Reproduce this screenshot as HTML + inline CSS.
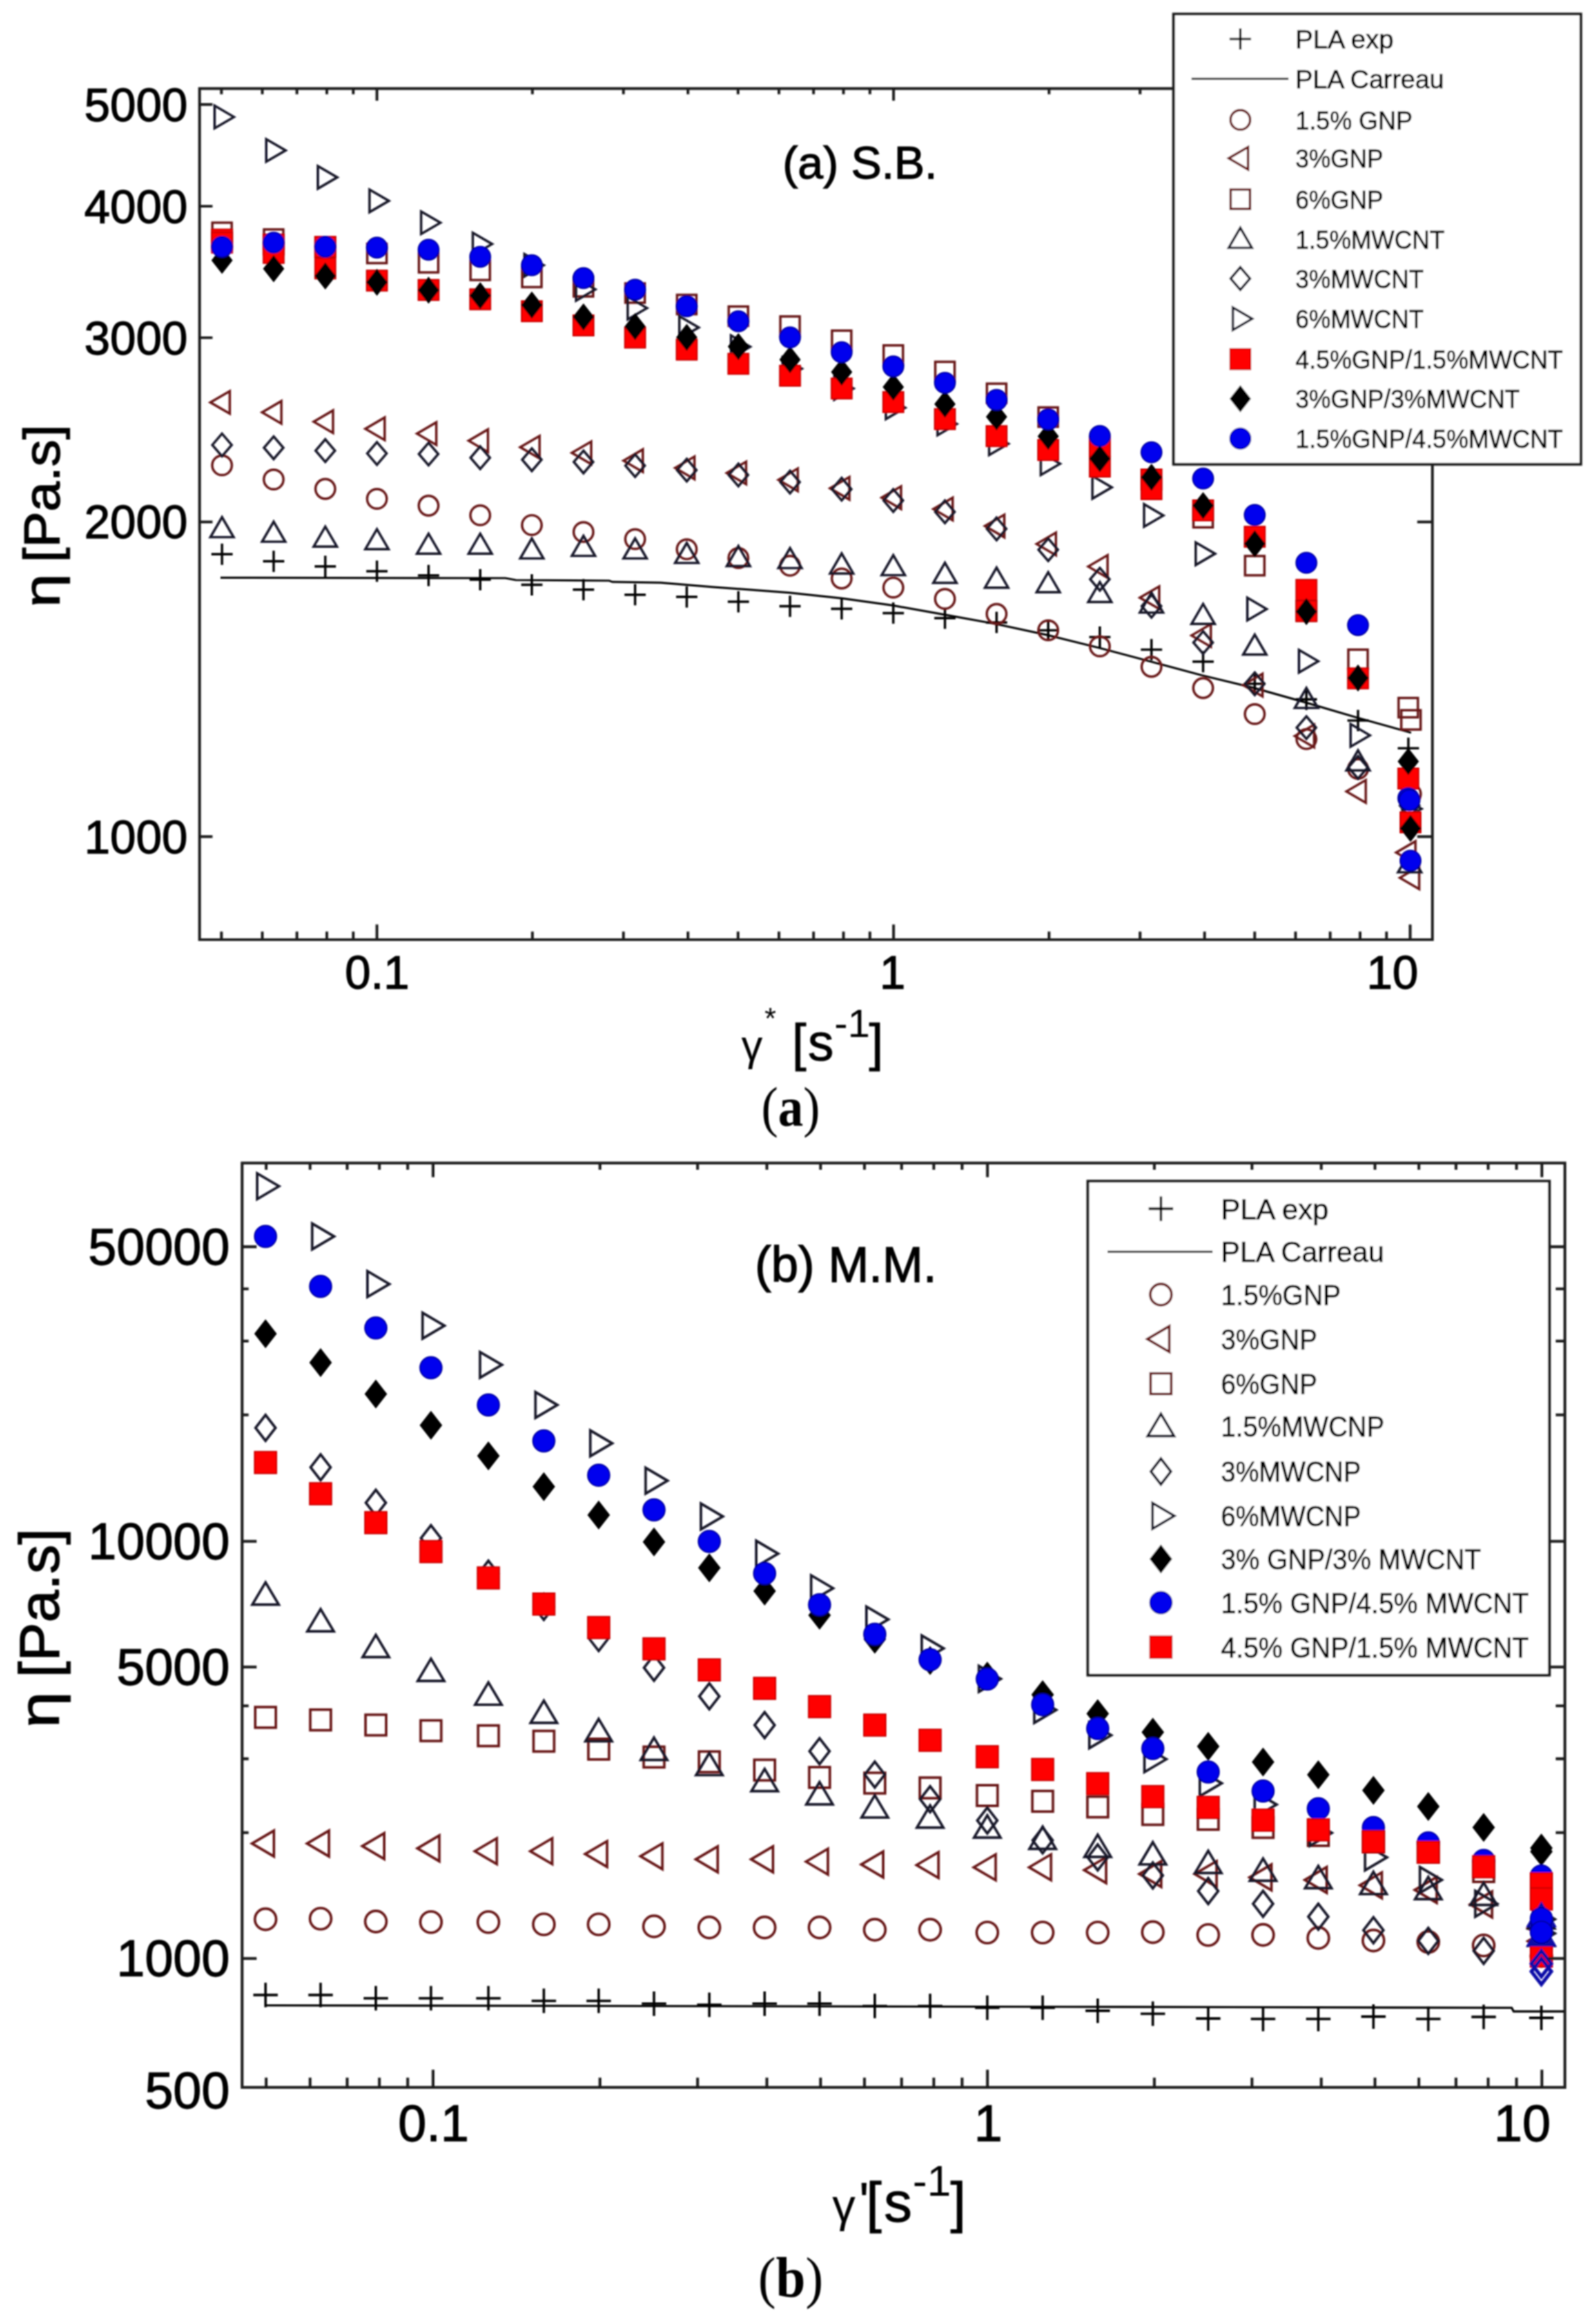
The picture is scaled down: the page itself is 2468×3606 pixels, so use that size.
<!DOCTYPE html>
<html lang="en"><head><meta charset="utf-8"><title>Figure: viscosity vs shear rate</title>
<style>
html,body{margin:0;padding:0;background:#fff;}
svg{display:block;}
text{fill:#000;}
</style></head>
<body>
<svg width="2468" height="3606" viewBox="0 0 2468 3606">
<defs><filter id="soft" x="-2%" y="-2%" width="104%" height="104%"><feGaussianBlur stdDeviation="0.9"/></filter></defs>
<rect width="2468" height="3606" fill="#fff"/>
<g filter="url(#soft)">
<g id="plot-a">
<path d="M327.9 859.9H360.9M344.4 843.4V876.4" stroke="#000000" stroke-width="3.7" fill="none"/>
<path d="M408 870.9H441M424.5 854.4V887.4" stroke="#000000" stroke-width="3.7" fill="none"/>
<path d="M488.1 878.8H521.1M504.6 862.3V895.3" stroke="#000000" stroke-width="3.7" fill="none"/>
<path d="M568.2 886.3H601.2M584.7 869.8V902.8" stroke="#000000" stroke-width="3.7" fill="none"/>
<path d="M648.3 892.9H681.3M664.8 876.4V909.4" stroke="#000000" stroke-width="3.7" fill="none"/>
<path d="M728.4 899.5H761.4M744.9 883V916" stroke="#000000" stroke-width="3.7" fill="none"/>
<path d="M808.5 907.4H841.5M825 890.9V923.9" stroke="#000000" stroke-width="3.7" fill="none"/>
<path d="M888.6 914.9H921.6M905.1 898.4V931.4" stroke="#000000" stroke-width="3.7" fill="none"/>
<path d="M968.7 922.8H1001.7M985.2 906.3V939.3" stroke="#000000" stroke-width="3.7" fill="none"/>
<path d="M1048.8 926.2H1081.8M1065.3 909.7V942.7" stroke="#000000" stroke-width="3.7" fill="none"/>
<path d="M1128.9 933.7H1161.9M1145.4 917.2V950.2" stroke="#000000" stroke-width="3.7" fill="none"/>
<path d="M1209 940.7H1242M1225.5 924.2V957.2" stroke="#000000" stroke-width="3.7" fill="none"/>
<path d="M1289.1 944.7H1322.1M1305.6 928.2V961.2" stroke="#000000" stroke-width="3.7" fill="none"/>
<path d="M1369.2 951.3H1402.2M1385.7 934.8V967.8" stroke="#000000" stroke-width="3.7" fill="none"/>
<path d="M1449.3 959.2H1482.3M1465.8 942.7V975.7" stroke="#000000" stroke-width="3.7" fill="none"/>
<path d="M1529.4 965.8H1562.4M1545.9 949.3V982.3" stroke="#000000" stroke-width="3.7" fill="none"/>
<path d="M1609.5 978H1642.5M1626 961.5V994.5" stroke="#000000" stroke-width="3.7" fill="none"/>
<path d="M1689.6 988.5H1722.6M1706.1 972V1005" stroke="#000000" stroke-width="3.7" fill="none"/>
<path d="M1769.7 1008H1802.7M1786.2 991.5V1024.5" stroke="#000000" stroke-width="3.7" fill="none"/>
<path d="M1849.8 1026.7H1882.8M1866.3 1010.2V1043.2" stroke="#000000" stroke-width="3.7" fill="none"/>
<path d="M1929.9 1061H1962.9M1946.4 1044.5V1077.5" stroke="#000000" stroke-width="3.7" fill="none"/>
<path d="M2010 1085.2H2043M2026.5 1068.7V1101.7" stroke="#000000" stroke-width="3.7" fill="none"/>
<path d="M2090.1 1118H2123.1M2106.6 1101.5V1134.5" stroke="#000000" stroke-width="3.7" fill="none"/>
<path d="M2168.2 1161H2201.2M2184.7 1144.5V1177.5" stroke="#000000" stroke-width="3.7" fill="none"/>
<polyline points="342,896.4 784,897 800,900 945,901 950,902.9 1025,904.2 1106,910.8 1224,919.6 1306,928.4 1385,939.4 1466,953.9 1544,968 1626,985.6 1704,1005 1786,1026.7 1864,1047.8 1946,1067.6 2024,1089.6 2106,1113.8 2185,1135.8 2189,1137" fill="none" stroke="#000000" stroke-width="3.2"/>
<circle cx="344.4" cy="722" r="15.2" stroke="#681616" stroke-width="3.7" fill="none"/>
<circle cx="424.5" cy="744" r="15.2" stroke="#681616" stroke-width="3.7" fill="none"/>
<circle cx="504.6" cy="758.6" r="15.2" stroke="#681616" stroke-width="3.7" fill="none"/>
<circle cx="584.7" cy="774" r="15.2" stroke="#681616" stroke-width="3.7" fill="none"/>
<circle cx="664.8" cy="784.6" r="15.2" stroke="#681616" stroke-width="3.7" fill="none"/>
<circle cx="744.9" cy="799.5" r="15.2" stroke="#681616" stroke-width="3.7" fill="none"/>
<circle cx="825" cy="814.7" r="15.2" stroke="#681616" stroke-width="3.7" fill="none"/>
<circle cx="905.1" cy="825.5" r="15.2" stroke="#681616" stroke-width="3.7" fill="none"/>
<circle cx="985.2" cy="836.5" r="15.2" stroke="#681616" stroke-width="3.7" fill="none"/>
<circle cx="1065.3" cy="852.3" r="15.2" stroke="#681616" stroke-width="3.7" fill="none"/>
<circle cx="1145.4" cy="865.9" r="15.2" stroke="#681616" stroke-width="3.7" fill="none"/>
<circle cx="1225.5" cy="877.8" r="15.2" stroke="#681616" stroke-width="3.7" fill="none"/>
<circle cx="1305.6" cy="897.6" r="15.2" stroke="#681616" stroke-width="3.7" fill="none"/>
<circle cx="1385.7" cy="911.7" r="15.2" stroke="#681616" stroke-width="3.7" fill="none"/>
<circle cx="1465.8" cy="929.3" r="15.2" stroke="#681616" stroke-width="3.7" fill="none"/>
<circle cx="1545.9" cy="952.6" r="15.2" stroke="#681616" stroke-width="3.7" fill="none"/>
<circle cx="1626" cy="978" r="15.2" stroke="#681616" stroke-width="3.7" fill="none"/>
<circle cx="1706.1" cy="1003" r="15.2" stroke="#681616" stroke-width="3.7" fill="none"/>
<circle cx="1786.2" cy="1034.6" r="15.2" stroke="#681616" stroke-width="3.7" fill="none"/>
<circle cx="1866.3" cy="1067.6" r="15.2" stroke="#681616" stroke-width="3.7" fill="none"/>
<circle cx="1946.4" cy="1108" r="15.2" stroke="#681616" stroke-width="3.7" fill="none"/>
<circle cx="2026.5" cy="1146.8" r="15.2" stroke="#681616" stroke-width="3.7" fill="none"/>
<circle cx="2106.6" cy="1193" r="15.2" stroke="#681616" stroke-width="3.7" fill="none"/>
<circle cx="2188.7" cy="1232" r="15.2" stroke="#681616" stroke-width="3.7" fill="none"/>
<path d="M326.4 624.4L356.4 606.9L356.4 641.9Z" stroke="#681616" stroke-width="3.7" fill="none" stroke-linejoin="miter"/>
<path d="M406.5 639.8L436.5 622.3L436.5 657.3Z" stroke="#681616" stroke-width="3.7" fill="none" stroke-linejoin="miter"/>
<path d="M486.6 654.3L516.6 636.8L516.6 671.8Z" stroke="#681616" stroke-width="3.7" fill="none" stroke-linejoin="miter"/>
<path d="M566.7 665.3L596.7 647.8L596.7 682.8Z" stroke="#681616" stroke-width="3.7" fill="none" stroke-linejoin="miter"/>
<path d="M646.8 672.8L676.8 655.3L676.8 690.3Z" stroke="#681616" stroke-width="3.7" fill="none" stroke-linejoin="miter"/>
<path d="M726.9 683.8L756.9 666.3L756.9 701.3Z" stroke="#681616" stroke-width="3.7" fill="none" stroke-linejoin="miter"/>
<path d="M807 693.9L837 676.4L837 711.4Z" stroke="#681616" stroke-width="3.7" fill="none" stroke-linejoin="miter"/>
<path d="M887.1 702.7L917.1 685.2L917.1 720.2Z" stroke="#681616" stroke-width="3.7" fill="none" stroke-linejoin="miter"/>
<path d="M967.2 714.8L997.2 697.3L997.2 732.3Z" stroke="#681616" stroke-width="3.7" fill="none" stroke-linejoin="miter"/>
<path d="M1047.3 726L1077.3 708.5L1077.3 743.5Z" stroke="#681616" stroke-width="3.7" fill="none" stroke-linejoin="miter"/>
<path d="M1127.4 733.9L1157.4 716.4L1157.4 751.4Z" stroke="#681616" stroke-width="3.7" fill="none" stroke-linejoin="miter"/>
<path d="M1207.5 744.5L1237.5 727L1237.5 762Z" stroke="#681616" stroke-width="3.7" fill="none" stroke-linejoin="miter"/>
<path d="M1287.6 757.7L1317.6 740.2L1317.6 775.2Z" stroke="#681616" stroke-width="3.7" fill="none" stroke-linejoin="miter"/>
<path d="M1367.7 772.2L1397.7 754.7L1397.7 789.7Z" stroke="#681616" stroke-width="3.7" fill="none" stroke-linejoin="miter"/>
<path d="M1447.8 789.8L1477.8 772.3L1477.8 807.3Z" stroke="#681616" stroke-width="3.7" fill="none" stroke-linejoin="miter"/>
<path d="M1527.9 816.2L1557.9 798.7L1557.9 833.7Z" stroke="#681616" stroke-width="3.7" fill="none" stroke-linejoin="miter"/>
<path d="M1608 844L1638 826.5L1638 861.5Z" stroke="#681616" stroke-width="3.7" fill="none" stroke-linejoin="miter"/>
<path d="M1688.1 879L1718.1 861.5L1718.1 896.5Z" stroke="#681616" stroke-width="3.7" fill="none" stroke-linejoin="miter"/>
<path d="M1768.2 927.4L1798.2 909.9L1798.2 944.9Z" stroke="#681616" stroke-width="3.7" fill="none" stroke-linejoin="miter"/>
<path d="M1848.3 986L1878.3 968.5L1878.3 1003.5Z" stroke="#681616" stroke-width="3.7" fill="none" stroke-linejoin="miter"/>
<path d="M1928.4 1063L1958.4 1045.5L1958.4 1080.5Z" stroke="#681616" stroke-width="3.7" fill="none" stroke-linejoin="miter"/>
<path d="M2008.5 1142L2038.5 1124.5L2038.5 1159.5Z" stroke="#681616" stroke-width="3.7" fill="none" stroke-linejoin="miter"/>
<path d="M2088.6 1228L2118.6 1210.5L2118.6 1245.5Z" stroke="#681616" stroke-width="3.7" fill="none" stroke-linejoin="miter"/>
<path d="M2165.7 1322.8L2195.7 1305.3L2195.7 1340.3Z" stroke="#681616" stroke-width="3.7" fill="none" stroke-linejoin="miter"/>
<path d="M2171.5 1362L2201.5 1344.5L2201.5 1379.5Z" stroke="#681616" stroke-width="3.7" fill="none" stroke-linejoin="miter"/>
<rect x="329.4" y="345.5" width="30" height="30" stroke="#681616" stroke-width="3.7" fill="none"/>
<rect x="409.5" y="356" width="30" height="30" stroke="#681616" stroke-width="3.7" fill="none"/>
<rect x="489.6" y="368" width="30" height="30" stroke="#681616" stroke-width="3.7" fill="none"/>
<rect x="569.7" y="378.3" width="30" height="30" stroke="#681616" stroke-width="3.7" fill="none"/>
<rect x="649.8" y="392.7" width="30" height="30" stroke="#681616" stroke-width="3.7" fill="none"/>
<rect x="729.9" y="404.5" width="30" height="30" stroke="#681616" stroke-width="3.7" fill="none"/>
<rect x="810" y="415.5" width="30" height="30" stroke="#681616" stroke-width="3.7" fill="none"/>
<rect x="890.1" y="430" width="30" height="30" stroke="#681616" stroke-width="3.7" fill="none"/>
<rect x="970.2" y="439.7" width="30" height="30" stroke="#681616" stroke-width="3.7" fill="none"/>
<rect x="1050.3" y="457.5" width="30" height="30" stroke="#681616" stroke-width="3.7" fill="none"/>
<rect x="1130.4" y="475.6" width="30" height="30" stroke="#681616" stroke-width="3.7" fill="none"/>
<rect x="1210.5" y="491" width="30" height="30" stroke="#681616" stroke-width="3.7" fill="none"/>
<rect x="1290.6" y="513" width="30" height="30" stroke="#681616" stroke-width="3.7" fill="none"/>
<rect x="1370.7" y="535.9" width="30" height="30" stroke="#681616" stroke-width="3.7" fill="none"/>
<rect x="1450.8" y="561.4" width="30" height="30" stroke="#681616" stroke-width="3.7" fill="none"/>
<rect x="1530.9" y="595.3" width="30" height="30" stroke="#681616" stroke-width="3.7" fill="none"/>
<rect x="1611" y="632.2" width="30" height="30" stroke="#681616" stroke-width="3.7" fill="none"/>
<rect x="1691.1" y="678" width="30" height="30" stroke="#681616" stroke-width="3.7" fill="none"/>
<rect x="1771.2" y="729" width="30" height="30" stroke="#681616" stroke-width="3.7" fill="none"/>
<rect x="1851.3" y="788.3" width="30" height="30" stroke="#681616" stroke-width="3.7" fill="none"/>
<rect x="1931.4" y="862.7" width="30" height="30" stroke="#681616" stroke-width="3.7" fill="none"/>
<rect x="2011.5" y="933.3" width="30" height="30" stroke="#681616" stroke-width="3.7" fill="none"/>
<rect x="2091.6" y="1008" width="30" height="30" stroke="#681616" stroke-width="3.7" fill="none"/>
<rect x="2169.5" y="1083" width="30" height="30" stroke="#681616" stroke-width="3.7" fill="none"/>
<rect x="2173.7" y="1102" width="30" height="30" stroke="#681616" stroke-width="3.7" fill="none"/>
<path d="M344.4 802.5L362.4 833.5L326.4 833.5Z" stroke="#121228" stroke-width="3.7" fill="none" stroke-linejoin="miter"/>
<path d="M424.5 809.5L442.5 840.5L406.5 840.5Z" stroke="#121228" stroke-width="3.7" fill="none" stroke-linejoin="miter"/>
<path d="M504.6 817.1L522.6 848.1L486.6 848.1Z" stroke="#121228" stroke-width="3.7" fill="none" stroke-linejoin="miter"/>
<path d="M584.7 821.1L602.7 852.1L566.7 852.1Z" stroke="#121228" stroke-width="3.7" fill="none" stroke-linejoin="miter"/>
<path d="M664.8 828.1L682.8 859.1L646.8 859.1Z" stroke="#121228" stroke-width="3.7" fill="none" stroke-linejoin="miter"/>
<path d="M744.9 828.1L762.9 859.1L726.9 859.1Z" stroke="#121228" stroke-width="3.7" fill="none" stroke-linejoin="miter"/>
<path d="M825 835.5L843 866.5L807 866.5Z" stroke="#121228" stroke-width="3.7" fill="none" stroke-linejoin="miter"/>
<path d="M905.1 831.5L923.1 862.5L887.1 862.5Z" stroke="#121228" stroke-width="3.7" fill="none" stroke-linejoin="miter"/>
<path d="M985.2 835.5L1003.2 866.5L967.2 866.5Z" stroke="#121228" stroke-width="3.7" fill="none" stroke-linejoin="miter"/>
<path d="M1065.3 842.5L1083.3 873.5L1047.3 873.5Z" stroke="#121228" stroke-width="3.7" fill="none" stroke-linejoin="miter"/>
<path d="M1145.4 847.3L1163.4 878.3L1127.4 878.3Z" stroke="#121228" stroke-width="3.7" fill="none" stroke-linejoin="miter"/>
<path d="M1225.5 850.5L1243.5 881.5L1207.5 881.5Z" stroke="#121228" stroke-width="3.7" fill="none" stroke-linejoin="miter"/>
<path d="M1305.6 858.8L1323.6 889.8L1287.6 889.8Z" stroke="#121228" stroke-width="3.7" fill="none" stroke-linejoin="miter"/>
<path d="M1385.7 861.5L1403.7 892.5L1367.7 892.5Z" stroke="#121228" stroke-width="3.7" fill="none" stroke-linejoin="miter"/>
<path d="M1465.8 873.3L1483.8 904.3L1447.8 904.3Z" stroke="#121228" stroke-width="3.7" fill="none" stroke-linejoin="miter"/>
<path d="M1545.9 880.8L1563.9 911.8L1527.9 911.8Z" stroke="#121228" stroke-width="3.7" fill="none" stroke-linejoin="miter"/>
<path d="M1626 887.9L1644 918.9L1608 918.9Z" stroke="#121228" stroke-width="3.7" fill="none" stroke-linejoin="miter"/>
<path d="M1706.1 903.1L1724.1 934.1L1688.1 934.1Z" stroke="#121228" stroke-width="3.7" fill="none" stroke-linejoin="miter"/>
<path d="M1786.2 919.5L1804.2 950.5L1768.2 950.5Z" stroke="#121228" stroke-width="3.7" fill="none" stroke-linejoin="miter"/>
<path d="M1866.3 937.1L1884.3 968.1L1848.3 968.1Z" stroke="#121228" stroke-width="3.7" fill="none" stroke-linejoin="miter"/>
<path d="M1946.4 984.7L1964.4 1015.7L1928.4 1015.7Z" stroke="#121228" stroke-width="3.7" fill="none" stroke-linejoin="miter"/>
<path d="M2026.5 1067.5L2044.5 1098.5L2008.5 1098.5Z" stroke="#121228" stroke-width="3.7" fill="none" stroke-linejoin="miter"/>
<path d="M2106.6 1164.3L2124.6 1195.3L2088.6 1195.3Z" stroke="#121228" stroke-width="3.7" fill="none" stroke-linejoin="miter"/>
<path d="M2186.7 1322.5L2204.7 1353.5L2168.7 1353.5Z" stroke="#121228" stroke-width="3.7" fill="none" stroke-linejoin="miter"/>
<path d="M344.4 672.9L359.4 690.4L344.4 707.9L329.4 690.4Z" stroke="#121228" stroke-width="3.7" fill="none" stroke-linejoin="miter"/>
<path d="M424.5 677.3L439.5 694.8L424.5 712.3L409.5 694.8Z" stroke="#121228" stroke-width="3.7" fill="none" stroke-linejoin="miter"/>
<path d="M504.6 681.7L519.6 699.2L504.6 716.7L489.6 699.2Z" stroke="#121228" stroke-width="3.7" fill="none" stroke-linejoin="miter"/>
<path d="M584.7 686.1L599.7 703.6L584.7 721.1L569.7 703.6Z" stroke="#121228" stroke-width="3.7" fill="none" stroke-linejoin="miter"/>
<path d="M664.8 687L679.8 704.5L664.8 722L649.8 704.5Z" stroke="#121228" stroke-width="3.7" fill="none" stroke-linejoin="miter"/>
<path d="M744.9 692.7L759.9 710.2L744.9 727.7L729.9 710.2Z" stroke="#121228" stroke-width="3.7" fill="none" stroke-linejoin="miter"/>
<path d="M825 695.8L840 713.3L825 730.8L810 713.3Z" stroke="#121228" stroke-width="3.7" fill="none" stroke-linejoin="miter"/>
<path d="M905.1 699.3L920.1 716.8L905.1 734.3L890.1 716.8Z" stroke="#121228" stroke-width="3.7" fill="none" stroke-linejoin="miter"/>
<path d="M985.2 705L1000.2 722.5L985.2 740L970.2 722.5Z" stroke="#121228" stroke-width="3.7" fill="none" stroke-linejoin="miter"/>
<path d="M1065.3 712L1080.3 729.5L1065.3 747L1050.3 729.5Z" stroke="#121228" stroke-width="3.7" fill="none" stroke-linejoin="miter"/>
<path d="M1145.4 719.5L1160.4 737L1145.4 754.5L1130.4 737Z" stroke="#121228" stroke-width="3.7" fill="none" stroke-linejoin="miter"/>
<path d="M1225.5 730.5L1240.5 748L1225.5 765.5L1210.5 748Z" stroke="#121228" stroke-width="3.7" fill="none" stroke-linejoin="miter"/>
<path d="M1305.6 741.5L1320.6 759L1305.6 776.5L1290.6 759Z" stroke="#121228" stroke-width="3.7" fill="none" stroke-linejoin="miter"/>
<path d="M1385.7 759.1L1400.7 776.6L1385.7 794.1L1370.7 776.6Z" stroke="#121228" stroke-width="3.7" fill="none" stroke-linejoin="miter"/>
<path d="M1465.8 776.7L1480.8 794.2L1465.8 811.7L1450.8 794.2Z" stroke="#121228" stroke-width="3.7" fill="none" stroke-linejoin="miter"/>
<path d="M1545.9 803.1L1560.9 820.6L1545.9 838.1L1530.9 820.6Z" stroke="#121228" stroke-width="3.7" fill="none" stroke-linejoin="miter"/>
<path d="M1626 835.5L1641 853L1626 870.5L1611 853Z" stroke="#121228" stroke-width="3.7" fill="none" stroke-linejoin="miter"/>
<path d="M1706.1 881.3L1721.1 898.8L1706.1 916.3L1691.1 898.8Z" stroke="#121228" stroke-width="3.7" fill="none" stroke-linejoin="miter"/>
<path d="M1786.2 923.1L1801.2 940.6L1786.2 958.1L1771.2 940.6Z" stroke="#121228" stroke-width="3.7" fill="none" stroke-linejoin="miter"/>
<path d="M1866.3 979.5L1881.3 997L1866.3 1014.5L1851.3 997Z" stroke="#121228" stroke-width="3.7" fill="none" stroke-linejoin="miter"/>
<path d="M1946.4 1043.5L1961.4 1061L1946.4 1078.5L1931.4 1061Z" stroke="#121228" stroke-width="3.7" fill="none" stroke-linejoin="miter"/>
<path d="M2026.5 1111.5L2041.5 1129L2026.5 1146.5L2011.5 1129Z" stroke="#121228" stroke-width="3.7" fill="none" stroke-linejoin="miter"/>
<path d="M2106.6 1173.3L2121.6 1190.8L2106.6 1208.3L2091.6 1190.8Z" stroke="#121228" stroke-width="3.7" fill="none" stroke-linejoin="miter"/>
<path d="M2186.7 1232.5L2201.7 1250L2186.7 1267.5L2171.7 1250Z" stroke="#121228" stroke-width="3.7" fill="none" stroke-linejoin="miter"/>
<path d="M362.9 181.5L332.9 164L332.9 199Z" stroke="#121228" stroke-width="3.7" fill="none" stroke-linejoin="miter"/>
<path d="M443 233.4L413 215.9L413 250.9Z" stroke="#121228" stroke-width="3.7" fill="none" stroke-linejoin="miter"/>
<path d="M523.1 275.2L493.1 257.7L493.1 292.7Z" stroke="#121228" stroke-width="3.7" fill="none" stroke-linejoin="miter"/>
<path d="M603.2 311.7L573.2 294.2L573.2 329.2Z" stroke="#121228" stroke-width="3.7" fill="none" stroke-linejoin="miter"/>
<path d="M683.3 345.6L653.3 328.1L653.3 363.1Z" stroke="#121228" stroke-width="3.7" fill="none" stroke-linejoin="miter"/>
<path d="M763.4 378.6L733.4 361.1L733.4 396.1Z" stroke="#121228" stroke-width="3.7" fill="none" stroke-linejoin="miter"/>
<path d="M843.5 411.6L813.5 394.1L813.5 429.1Z" stroke="#121228" stroke-width="3.7" fill="none" stroke-linejoin="miter"/>
<path d="M923.6 449L893.6 431.5L893.6 466.5Z" stroke="#121228" stroke-width="3.7" fill="none" stroke-linejoin="miter"/>
<path d="M1003.7 478L973.7 460.5L973.7 495.5Z" stroke="#121228" stroke-width="3.7" fill="none" stroke-linejoin="miter"/>
<path d="M1083.8 508.2L1053.8 490.7L1053.8 525.7Z" stroke="#121228" stroke-width="3.7" fill="none" stroke-linejoin="miter"/>
<path d="M1163.9 538L1133.9 520.5L1133.9 555.5Z" stroke="#121228" stroke-width="3.7" fill="none" stroke-linejoin="miter"/>
<path d="M1244 572L1214 554.5L1214 589.5Z" stroke="#121228" stroke-width="3.7" fill="none" stroke-linejoin="miter"/>
<path d="M1324.1 602.8L1294.1 585.3L1294.1 620.3Z" stroke="#121228" stroke-width="3.7" fill="none" stroke-linejoin="miter"/>
<path d="M1404.2 632.7L1374.2 615.2L1374.2 650.2Z" stroke="#121228" stroke-width="3.7" fill="none" stroke-linejoin="miter"/>
<path d="M1484.3 657.8L1454.3 640.3L1454.3 675.3Z" stroke="#121228" stroke-width="3.7" fill="none" stroke-linejoin="miter"/>
<path d="M1564.4 688.6L1534.4 671.1L1534.4 706.1Z" stroke="#121228" stroke-width="3.7" fill="none" stroke-linejoin="miter"/>
<path d="M1644.5 719.5L1614.5 702L1614.5 737Z" stroke="#121228" stroke-width="3.7" fill="none" stroke-linejoin="miter"/>
<path d="M1724.6 756.2L1694.6 738.7L1694.6 773.7Z" stroke="#121228" stroke-width="3.7" fill="none" stroke-linejoin="miter"/>
<path d="M1804.7 799.8L1774.7 782.3L1774.7 817.3Z" stroke="#121228" stroke-width="3.7" fill="none" stroke-linejoin="miter"/>
<path d="M1884.8 859.2L1854.8 841.7L1854.8 876.7Z" stroke="#121228" stroke-width="3.7" fill="none" stroke-linejoin="miter"/>
<path d="M1964.9 945L1934.9 927.5L1934.9 962.5Z" stroke="#121228" stroke-width="3.7" fill="none" stroke-linejoin="miter"/>
<path d="M2045 1026L2015 1008.5L2015 1043.5Z" stroke="#121228" stroke-width="3.7" fill="none" stroke-linejoin="miter"/>
<path d="M2125.1 1141L2095.1 1123.5L2095.1 1158.5Z" stroke="#121228" stroke-width="3.7" fill="none" stroke-linejoin="miter"/>
<path d="M2205.2 1255L2175.2 1237.5L2175.2 1272.5Z" stroke="#121228" stroke-width="3.7" fill="none" stroke-linejoin="miter"/>
<rect x="328.4" y="355.7" width="32" height="32" stroke="#c80000" stroke-width="2" fill="#ff0000"/>
<rect x="328.4" y="360.5" width="32" height="32" stroke="#c80000" stroke-width="2" fill="#ff0000"/>
<rect x="408.5" y="363.5" width="32" height="32" stroke="#c80000" stroke-width="2" fill="#ff0000"/>
<rect x="408.5" y="376.5" width="32" height="32" stroke="#c80000" stroke-width="2" fill="#ff0000"/>
<rect x="488.6" y="367" width="32" height="32" stroke="#c80000" stroke-width="2" fill="#ff0000"/>
<rect x="488.6" y="400.5" width="32" height="32" stroke="#c80000" stroke-width="2" fill="#ff0000"/>
<rect x="568.7" y="419.4" width="32" height="32" stroke="#c80000" stroke-width="2" fill="#ff0000"/>
<rect x="648.8" y="433.9" width="32" height="32" stroke="#c80000" stroke-width="2" fill="#ff0000"/>
<rect x="728.9" y="448.4" width="32" height="32" stroke="#c80000" stroke-width="2" fill="#ff0000"/>
<rect x="809" y="466.9" width="32" height="32" stroke="#c80000" stroke-width="2" fill="#ff0000"/>
<rect x="889.1" y="488.9" width="32" height="32" stroke="#c80000" stroke-width="2" fill="#ff0000"/>
<rect x="969.2" y="507.8" width="32" height="32" stroke="#c80000" stroke-width="2" fill="#ff0000"/>
<rect x="1049.3" y="526.5" width="32" height="32" stroke="#c80000" stroke-width="2" fill="#ff0000"/>
<rect x="1129.4" y="548.5" width="32" height="32" stroke="#c80000" stroke-width="2" fill="#ff0000"/>
<rect x="1209.5" y="567" width="32" height="32" stroke="#c80000" stroke-width="2" fill="#ff0000"/>
<rect x="1289.6" y="586.8" width="32" height="32" stroke="#c80000" stroke-width="2" fill="#ff0000"/>
<rect x="1369.7" y="607.9" width="32" height="32" stroke="#c80000" stroke-width="2" fill="#ff0000"/>
<rect x="1449.8" y="634.3" width="32" height="32" stroke="#c80000" stroke-width="2" fill="#ff0000"/>
<rect x="1529.9" y="660.7" width="32" height="32" stroke="#c80000" stroke-width="2" fill="#ff0000"/>
<rect x="1610" y="682.2" width="32" height="32" stroke="#c80000" stroke-width="2" fill="#ff0000"/>
<rect x="1690.1" y="677" width="32" height="32" stroke="#c80000" stroke-width="2" fill="#ff0000"/>
<rect x="1690.1" y="708" width="32" height="32" stroke="#c80000" stroke-width="2" fill="#ff0000"/>
<rect x="1770.2" y="728" width="32" height="32" stroke="#c80000" stroke-width="2" fill="#ff0000"/>
<rect x="1770.2" y="743" width="32" height="32" stroke="#c80000" stroke-width="2" fill="#ff0000"/>
<rect x="1850.3" y="775.9" width="32" height="32" stroke="#c80000" stroke-width="2" fill="#ff0000"/>
<rect x="1930.4" y="816.8" width="32" height="32" stroke="#c80000" stroke-width="2" fill="#ff0000"/>
<rect x="2010.5" y="899.3" width="32" height="32" stroke="#c80000" stroke-width="2" fill="#ff0000"/>
<rect x="2010.5" y="932.3" width="32" height="32" stroke="#c80000" stroke-width="2" fill="#ff0000"/>
<rect x="2090.6" y="1036.6" width="32" height="32" stroke="#c80000" stroke-width="2" fill="#ff0000"/>
<rect x="2168.6" y="1192" width="32" height="32" stroke="#c80000" stroke-width="2" fill="#ff0000"/>
<rect x="2172" y="1260" width="32" height="32" stroke="#c80000" stroke-width="2" fill="#ff0000"/>
<path d="M344.4 383L360.9 404L344.4 425L327.9 404Z" stroke="#000000" stroke-width="0" fill="#000000" stroke-linejoin="miter"/>
<path d="M424.5 395.9L441 416.9L424.5 437.9L408 416.9Z" stroke="#000000" stroke-width="0" fill="#000000" stroke-linejoin="miter"/>
<path d="M504.6 407.3L521.1 428.3L504.6 449.3L488.1 428.3Z" stroke="#000000" stroke-width="0" fill="#000000" stroke-linejoin="miter"/>
<path d="M584.7 417L601.2 438L584.7 459L568.2 438Z" stroke="#000000" stroke-width="0" fill="#000000" stroke-linejoin="miter"/>
<path d="M664.8 429.3L681.3 450.3L664.8 471.3L648.3 450.3Z" stroke="#000000" stroke-width="0" fill="#000000" stroke-linejoin="miter"/>
<path d="M744.9 437.7L761.4 458.7L744.9 479.7L728.4 458.7Z" stroke="#000000" stroke-width="0" fill="#000000" stroke-linejoin="miter"/>
<path d="M825 452.2L841.5 473.2L825 494.2L808.5 473.2Z" stroke="#000000" stroke-width="0" fill="#000000" stroke-linejoin="miter"/>
<path d="M905.1 470.7L921.6 491.7L905.1 512.7L888.6 491.7Z" stroke="#000000" stroke-width="0" fill="#000000" stroke-linejoin="miter"/>
<path d="M985.2 485.7L1001.7 506.7L985.2 527.7L968.7 506.7Z" stroke="#000000" stroke-width="0" fill="#000000" stroke-linejoin="miter"/>
<path d="M1065.3 502.6L1081.8 523.6L1065.3 544.6L1048.8 523.6Z" stroke="#000000" stroke-width="0" fill="#000000" stroke-linejoin="miter"/>
<path d="M1145.4 516.7L1161.9 537.7L1145.4 558.7L1128.9 537.7Z" stroke="#000000" stroke-width="0" fill="#000000" stroke-linejoin="miter"/>
<path d="M1225.5 536.9L1242 557.9L1225.5 578.9L1209 557.9Z" stroke="#000000" stroke-width="0" fill="#000000" stroke-linejoin="miter"/>
<path d="M1305.6 556.3L1322.1 577.3L1305.6 598.3L1289.1 577.3Z" stroke="#000000" stroke-width="0" fill="#000000" stroke-linejoin="miter"/>
<path d="M1385.7 579.6L1402.2 600.6L1385.7 621.6L1369.2 600.6Z" stroke="#000000" stroke-width="0" fill="#000000" stroke-linejoin="miter"/>
<path d="M1465.8 606L1482.3 627L1465.8 648L1449.3 627Z" stroke="#000000" stroke-width="0" fill="#000000" stroke-linejoin="miter"/>
<path d="M1545.9 625.8L1562.4 646.8L1545.9 667.8L1529.4 646.8Z" stroke="#000000" stroke-width="0" fill="#000000" stroke-linejoin="miter"/>
<path d="M1626 656L1642.5 677L1626 698L1609.5 677Z" stroke="#000000" stroke-width="0" fill="#000000" stroke-linejoin="miter"/>
<path d="M1706.1 690.8L1722.6 711.8L1706.1 732.8L1689.6 711.8Z" stroke="#000000" stroke-width="0" fill="#000000" stroke-linejoin="miter"/>
<path d="M1786.2 719.4L1802.7 740.4L1786.2 761.4L1769.7 740.4Z" stroke="#000000" stroke-width="0" fill="#000000" stroke-linejoin="miter"/>
<path d="M1866.3 763.4L1882.8 784.4L1866.3 805.4L1849.8 784.4Z" stroke="#000000" stroke-width="0" fill="#000000" stroke-linejoin="miter"/>
<path d="M1946.4 822.8L1962.9 843.8L1946.4 864.8L1929.9 843.8Z" stroke="#000000" stroke-width="0" fill="#000000" stroke-linejoin="miter"/>
<path d="M2026.5 928L2043 949L2026.5 970L2010 949Z" stroke="#000000" stroke-width="0" fill="#000000" stroke-linejoin="miter"/>
<path d="M2106.6 1031L2123.1 1052L2106.6 1073L2090.1 1052Z" stroke="#000000" stroke-width="0" fill="#000000" stroke-linejoin="miter"/>
<path d="M2184.6 1160.5L2201.1 1181.5L2184.6 1202.5L2168.1 1181.5Z" stroke="#000000" stroke-width="0" fill="#000000" stroke-linejoin="miter"/>
<path d="M2188 1264.4L2204.5 1285.4L2188 1306.4L2171.5 1285.4Z" stroke="#000000" stroke-width="0" fill="#000000" stroke-linejoin="miter"/>
<circle cx="344.4" cy="383" r="16" stroke="#0000a0" stroke-width="2" fill="#0000ee"/>
<circle cx="424.5" cy="376.4" r="16" stroke="#0000a0" stroke-width="2" fill="#0000ee"/>
<circle cx="504.6" cy="383" r="16" stroke="#0000a0" stroke-width="2" fill="#0000ee"/>
<circle cx="584.7" cy="384.3" r="16" stroke="#0000a0" stroke-width="2" fill="#0000ee"/>
<circle cx="664.8" cy="387.4" r="16" stroke="#0000a0" stroke-width="2" fill="#0000ee"/>
<circle cx="744.9" cy="398.4" r="16" stroke="#0000a0" stroke-width="2" fill="#0000ee"/>
<circle cx="825" cy="411.6" r="16" stroke="#0000a0" stroke-width="2" fill="#0000ee"/>
<circle cx="905.1" cy="431.4" r="16" stroke="#0000a0" stroke-width="2" fill="#0000ee"/>
<circle cx="985.2" cy="449.5" r="16" stroke="#0000a0" stroke-width="2" fill="#0000ee"/>
<circle cx="1065.3" cy="475.2" r="16" stroke="#0000a0" stroke-width="2" fill="#0000ee"/>
<circle cx="1145.4" cy="498.5" r="16" stroke="#0000a0" stroke-width="2" fill="#0000ee"/>
<circle cx="1225.5" cy="523.6" r="16" stroke="#0000a0" stroke-width="2" fill="#0000ee"/>
<circle cx="1305.6" cy="546.5" r="16" stroke="#0000a0" stroke-width="2" fill="#0000ee"/>
<circle cx="1385.7" cy="568.5" r="16" stroke="#0000a0" stroke-width="2" fill="#0000ee"/>
<circle cx="1465.8" cy="594" r="16" stroke="#0000a0" stroke-width="2" fill="#0000ee"/>
<circle cx="1545.9" cy="620.4" r="16" stroke="#0000a0" stroke-width="2" fill="#0000ee"/>
<circle cx="1626" cy="650.7" r="16" stroke="#0000a0" stroke-width="2" fill="#0000ee"/>
<circle cx="1706.1" cy="676.6" r="16" stroke="#0000a0" stroke-width="2" fill="#0000ee"/>
<circle cx="1786.2" cy="701.7" r="16" stroke="#0000a0" stroke-width="2" fill="#0000ee"/>
<circle cx="1866.3" cy="742.6" r="16" stroke="#0000a0" stroke-width="2" fill="#0000ee"/>
<circle cx="1946.4" cy="798.9" r="16" stroke="#0000a0" stroke-width="2" fill="#0000ee"/>
<circle cx="2026.5" cy="873.3" r="16" stroke="#0000a0" stroke-width="2" fill="#0000ee"/>
<circle cx="2106.6" cy="970" r="16" stroke="#0000a0" stroke-width="2" fill="#0000ee"/>
<circle cx="2184.6" cy="1238.5" r="16" stroke="#0000a0" stroke-width="2" fill="#0000ee"/>
<circle cx="2186.5" cy="1241.5" r="16" stroke="#0000a0" stroke-width="2" fill="#0000ee"/>
<circle cx="2188" cy="1335.5" r="16" stroke="#0000a0" stroke-width="2" fill="#0000ee"/>
<path d="M309.6 137.3H2222V1458H309.6Z" fill="none" stroke="#1a1a1a" stroke-width="4.2"/>
<text x="291" y="1323.7" font-family='"Liberation Sans", Arial, sans-serif' font-size="72" text-anchor="end" font-weight="normal" stroke="#000" stroke-width="1.3">1000</text>
<text x="291" y="835.3" font-family='"Liberation Sans", Arial, sans-serif' font-size="72" text-anchor="end" font-weight="normal" stroke="#000" stroke-width="1.3">2000</text>
<text x="291" y="549.5" font-family='"Liberation Sans", Arial, sans-serif' font-size="72" text-anchor="end" font-weight="normal" stroke="#000" stroke-width="1.3">3000</text>
<text x="291" y="345.5" font-family='"Liberation Sans", Arial, sans-serif' font-size="72" text-anchor="end" font-weight="normal" stroke="#000" stroke-width="1.3">4000</text>
<text x="291" y="187.6" font-family='"Liberation Sans", Arial, sans-serif' font-size="72" text-anchor="end" font-weight="normal" stroke="#000" stroke-width="1.3">5000</text>
<path d="M343.5 1458v-12.5M343.5 137.3v9M406.9 1458v-12.5M406.9 137.3v9M460.6 1458v-12.5M460.6 137.3v9M507 1458v-12.5M507 137.3v9M548 1458v-12.5M548 137.3v9M584.7 1458v-23.5M584.7 137.3v19M825.9 1458v-12.5M825.9 137.3v9M967.1 1458v-12.5M967.1 137.3v9M1067.2 1458v-12.5M1067.2 137.3v9M1144.9 1458v-12.5M1144.9 137.3v9M1208.3 1458v-12.5M1208.3 137.3v9M1262 1458v-12.5M1262 137.3v9M1308.4 1458v-12.5M1308.4 137.3v9M1349.4 1458v-12.5M1349.4 137.3v9M1386.1 1458v-23.5M1386.1 137.3v19M1627.3 1458v-12.5M1627.3 137.3v9M1768.5 1458v-12.5M1768.5 137.3v9M1868.6 1458v-12.5M1868.6 137.3v9M1946.3 1458v-12.5M1946.3 137.3v9M2009.7 1458v-12.5M2009.7 137.3v9M2063.4 1458v-12.5M2063.4 137.3v9M2109.8 1458v-12.5M2109.8 137.3v9M2150.8 1458v-12.5M2150.8 137.3v9M2187.5 1458v-23.5M2187.5 137.3v19M309.6 1298.2h20M2222 1298.2h-23.5M309.6 809.8h20M2222 809.8h-23.5M309.6 524h20M2222 524h-23.5M309.6 320h20M2222 320h-23.5M309.6 162.1h20M2222 162.1h-23.5" stroke="#1a1a1a" stroke-width="4.2" fill="none"/>
<text x="585" y="1533.5" font-family='"Liberation Sans", Arial, sans-serif' font-size="72" text-anchor="middle" font-weight="normal" stroke="#000" stroke-width="1.3">0.1</text>
<text x="1384.5" y="1533.5" font-family='"Liberation Sans", Arial, sans-serif' font-size="72" text-anchor="middle" font-weight="normal" stroke="#000" stroke-width="1.3">1</text>
<text x="2160" y="1533.5" font-family='"Liberation Sans", Arial, sans-serif' font-size="72" text-anchor="middle" font-weight="normal" stroke="#000" stroke-width="1.3">10</text>
<text transform="translate(91.5 942) rotate(-90)" font-family='"Liberation Sans", Arial, sans-serif' font-size="78" stroke="#000" stroke-width="1.4" textLength="51.6" lengthAdjust="spacingAndGlyphs">η</text>
<text transform="translate(91.5 872.8) rotate(-90)" font-family='"Liberation Sans", Arial, sans-serif' font-size="78" stroke="#000" stroke-width="1.4" textLength="214" lengthAdjust="spacingAndGlyphs">[Pa.s]</text>
<text x="1150" y="1645" font-family='"Liberation Sans", Arial, sans-serif' font-size="80" stroke="#000" stroke-width="1"><tspan font-size="66" stroke="none">γ</tspan><tspan font-size="46" dy="-49" dx="3" stroke="none">*</tspan><tspan dy="49" x="1228.5">[</tspan><tspan dx="2.5">s</tspan><tspan font-size="62" dy="-36" dx="1" stroke="none">-1</tspan><tspan dy="36" dx="-1.5">]</tspan></text>
<text x="1214" y="276.5" font-family='"Liberation Sans", Arial, sans-serif' font-size="71" text-anchor="start" font-weight="normal" textLength="240" lengthAdjust="spacingAndGlyphs" stroke="#000" stroke-width="1.3">(a) S.B.</text>
<text x="1181" y="1747" font-family='"Liberation Serif", "Times New Roman", serif' font-size="86" textLength="91" lengthAdjust="spacingAndGlyphs">(<tspan font-weight="bold">a</tspan>)</text>
<rect x="1820.5" y="21.8" width="631.7" height="698.6" fill="#fff" stroke="#1a1a1a" stroke-width="4.2"/>
<text x="2009.5" y="75" font-family='"Liberation Sans", Arial, sans-serif' font-size="40" text-anchor="start" font-weight="normal" textLength="152.2" lengthAdjust="spacingAndGlyphs" stroke="#000" stroke-width="0.7">PLA exp</text>
<text x="2009.5" y="136.9" font-family='"Liberation Sans", Arial, sans-serif' font-size="40" text-anchor="start" font-weight="normal" textLength="230.5" lengthAdjust="spacingAndGlyphs" stroke="#000" stroke-width="0.7">PLA Carreau</text>
<text x="2009.5" y="200.5" font-family='"Liberation Sans", Arial, sans-serif' font-size="40" text-anchor="start" font-weight="normal" textLength="181.6" lengthAdjust="spacingAndGlyphs" stroke="#000" stroke-width="0.7">1.5% GNP</text>
<text x="2009.5" y="260.1" font-family='"Liberation Sans", Arial, sans-serif' font-size="40" text-anchor="start" font-weight="normal" textLength="136.2" lengthAdjust="spacingAndGlyphs" stroke="#000" stroke-width="0.7">3%GNP</text>
<text x="2009.5" y="323.7" font-family='"Liberation Sans", Arial, sans-serif' font-size="40" text-anchor="start" font-weight="normal" textLength="136.2" lengthAdjust="spacingAndGlyphs" stroke="#000" stroke-width="0.7">6%GNP</text>
<text x="2009.5" y="385.5" font-family='"Liberation Sans", Arial, sans-serif' font-size="40" text-anchor="start" font-weight="normal" textLength="231.4" lengthAdjust="spacingAndGlyphs" stroke="#000" stroke-width="0.7">1.5%MWCNT</text>
<text x="2009.5" y="446.7" font-family='"Liberation Sans", Arial, sans-serif' font-size="40" text-anchor="start" font-weight="normal" textLength="198.9" lengthAdjust="spacingAndGlyphs" stroke="#000" stroke-width="0.7">3%MWCNT</text>
<text x="2009.5" y="509.1" font-family='"Liberation Sans", Arial, sans-serif' font-size="40" text-anchor="start" font-weight="normal" textLength="198.9" lengthAdjust="spacingAndGlyphs" stroke="#000" stroke-width="0.7">6%MWCNT</text>
<text x="2009.5" y="571.8" font-family='"Liberation Sans", Arial, sans-serif' font-size="40" text-anchor="start" font-weight="normal" textLength="415" lengthAdjust="spacingAndGlyphs" stroke="#000" stroke-width="0.7">4.5%GNP/1.5%MWCNT</text>
<text x="2009.5" y="633.2" font-family='"Liberation Sans", Arial, sans-serif' font-size="40" text-anchor="start" font-weight="normal" textLength="348" lengthAdjust="spacingAndGlyphs" stroke="#000" stroke-width="0.7">3%GNP/3%MWCNT</text>
<text x="2009.5" y="695" font-family='"Liberation Sans", Arial, sans-serif' font-size="40" text-anchor="start" font-weight="normal" textLength="415" lengthAdjust="spacingAndGlyphs" stroke="#000" stroke-width="0.7">1.5%GNP/4.5%MWCNT</text>
<path d="M1907.5 60.5H1940.5M1924 44V77" stroke="#000000" stroke-width="3.7" fill="none"/>
<path d="M1848.5 122.4H1998.5" stroke="#000000" stroke-width="3.2"/>
<circle cx="1924" cy="186" r="15.2" stroke="#681616" stroke-width="3.7" fill="none"/>
<path d="M1906 245.6L1936 228.1L1936 263.1Z" stroke="#681616" stroke-width="3.7" fill="none" stroke-linejoin="miter"/>
<rect x="1909" y="294.2" width="30" height="30" stroke="#681616" stroke-width="3.7" fill="none"/>
<path d="M1924 353.5L1942 384.5L1906 384.5Z" stroke="#121228" stroke-width="3.7" fill="none" stroke-linejoin="miter"/>
<path d="M1924 414.7L1939 432.2L1924 449.7L1909 432.2Z" stroke="#121228" stroke-width="3.7" fill="none" stroke-linejoin="miter"/>
<path d="M1942.5 494.6L1912.5 477.1L1912.5 512.1Z" stroke="#121228" stroke-width="3.7" fill="none" stroke-linejoin="miter"/>
<rect x="1908" y="541.3" width="32" height="32" stroke="#c80000" stroke-width="2" fill="#ff0000"/>
<path d="M1924 597.7L1940.5 618.7L1924 639.7L1907.5 618.7Z" stroke="#000000" stroke-width="0" fill="#000000" stroke-linejoin="miter"/>
<circle cx="1924" cy="680.5" r="16" stroke="#0000a0" stroke-width="2" fill="#0000ee"/>
</g>
<g id="plot-b">
<path d="M392.9 3095.5H430.9M411.9 3076.5V3114.5" stroke="#000000" stroke-width="3.8" fill="none"/>
<path d="M478.3 3095.5H516.3M497.3 3076.5V3114.5" stroke="#000000" stroke-width="3.8" fill="none"/>
<path d="M564 3100.6H602M583 3081.6V3119.6" stroke="#000000" stroke-width="3.8" fill="none"/>
<path d="M649.5 3100.6H687.5M668.5 3081.6V3119.6" stroke="#000000" stroke-width="3.8" fill="none"/>
<path d="M738.6 3100.6H776.6M757.6 3081.6V3119.6" stroke="#000000" stroke-width="3.8" fill="none"/>
<path d="M824.6 3104.6H862.6M843.6 3085.6V3123.6" stroke="#000000" stroke-width="3.8" fill="none"/>
<path d="M909.7 3104.6H947.7M928.7 3085.6V3123.6" stroke="#000000" stroke-width="3.8" fill="none"/>
<path d="M995.5 3108.9H1033.5M1014.5 3089.9V3127.9" stroke="#000000" stroke-width="3.8" fill="none"/>
<path d="M1081.3 3110.7H1119.3M1100.3 3091.7V3129.7" stroke="#000000" stroke-width="3.8" fill="none"/>
<path d="M1167.1 3108.9H1205.1M1186.1 3089.9V3127.9" stroke="#000000" stroke-width="3.8" fill="none"/>
<path d="M1252.3 3108.9H1290.3M1271.3 3089.9V3127.9" stroke="#000000" stroke-width="3.8" fill="none"/>
<path d="M1338 3112.6H1376M1357 3093.6V3131.6" stroke="#000000" stroke-width="3.8" fill="none"/>
<path d="M1423.8 3112.6H1461.8M1442.8 3093.6V3131.6" stroke="#000000" stroke-width="3.8" fill="none"/>
<path d="M1512.5 3115.3H1550.5M1531.5 3096.3V3134.3" stroke="#000000" stroke-width="3.8" fill="none"/>
<path d="M1598.4 3115.3H1636.4M1617.4 3096.3V3134.3" stroke="#000000" stroke-width="3.8" fill="none"/>
<path d="M1683.8 3120H1721.8M1702.8 3101V3139" stroke="#000000" stroke-width="3.8" fill="none"/>
<path d="M1769.3 3124.6H1807.3M1788.3 3105.6V3143.6" stroke="#000000" stroke-width="3.8" fill="none"/>
<path d="M1855.2 3132H1893.2M1874.2 3113V3151" stroke="#000000" stroke-width="3.8" fill="none"/>
<path d="M1940.3 3132.7H1978.3M1959.3 3113.7V3151.7" stroke="#000000" stroke-width="3.8" fill="none"/>
<path d="M2026 3132.7H2064M2045 3113.7V3151.7" stroke="#000000" stroke-width="3.8" fill="none"/>
<path d="M2111.5 3129H2149.5M2130.5 3110V3148" stroke="#000000" stroke-width="3.8" fill="none"/>
<path d="M2196.6 3132.7H2234.6M2215.6 3113.7V3151.7" stroke="#000000" stroke-width="3.8" fill="none"/>
<path d="M2282.5 3129.5H2320.5M2301.5 3110.5V3148.5" stroke="#000000" stroke-width="3.8" fill="none"/>
<path d="M2372 3131H2410M2391 3112V3150" stroke="#000000" stroke-width="3.8" fill="none"/>
<polyline points="411,3111.6 1000,3112.6 1740,3114 2345,3115.4 2348,3121 2426,3121" fill="none" stroke="#000000" stroke-width="3.4"/>
<circle cx="411.9" cy="2978" r="16.5" stroke="#681616" stroke-width="3.9" fill="none"/>
<circle cx="497.3" cy="2977.1" r="16.5" stroke="#681616" stroke-width="3.9" fill="none"/>
<circle cx="583" cy="2981.5" r="16.5" stroke="#681616" stroke-width="3.9" fill="none"/>
<circle cx="668.5" cy="2982.4" r="16.5" stroke="#681616" stroke-width="3.9" fill="none"/>
<circle cx="757.6" cy="2982.4" r="16.5" stroke="#681616" stroke-width="3.9" fill="none"/>
<circle cx="843.6" cy="2985.9" r="16.5" stroke="#681616" stroke-width="3.9" fill="none"/>
<circle cx="928.7" cy="2985.9" r="16.5" stroke="#681616" stroke-width="3.9" fill="none"/>
<circle cx="1014.5" cy="2989" r="16.5" stroke="#681616" stroke-width="3.9" fill="none"/>
<circle cx="1100.3" cy="2990.7" r="16.5" stroke="#681616" stroke-width="3.9" fill="none"/>
<circle cx="1186.1" cy="2990.7" r="16.5" stroke="#681616" stroke-width="3.9" fill="none"/>
<circle cx="1271.3" cy="2990.7" r="16.5" stroke="#681616" stroke-width="3.9" fill="none"/>
<circle cx="1357" cy="2994.2" r="16.5" stroke="#681616" stroke-width="3.9" fill="none"/>
<circle cx="1442.8" cy="2994.2" r="16.5" stroke="#681616" stroke-width="3.9" fill="none"/>
<circle cx="1531.5" cy="2998.6" r="16.5" stroke="#681616" stroke-width="3.9" fill="none"/>
<circle cx="1617.4" cy="2998.6" r="16.5" stroke="#681616" stroke-width="3.9" fill="none"/>
<circle cx="1702.8" cy="2998.6" r="16.5" stroke="#681616" stroke-width="3.9" fill="none"/>
<circle cx="1788.3" cy="2998" r="16.5" stroke="#681616" stroke-width="3.9" fill="none"/>
<circle cx="1874.2" cy="3002.4" r="16.5" stroke="#681616" stroke-width="3.9" fill="none"/>
<circle cx="1959.3" cy="3002.3" r="16.5" stroke="#681616" stroke-width="3.9" fill="none"/>
<circle cx="2045" cy="3007" r="16.5" stroke="#681616" stroke-width="3.9" fill="none"/>
<circle cx="2130.5" cy="3011" r="16.5" stroke="#681616" stroke-width="3.9" fill="none"/>
<circle cx="2215.6" cy="3013.3" r="16.5" stroke="#681616" stroke-width="3.9" fill="none"/>
<circle cx="2301.5" cy="3018.6" r="16.5" stroke="#681616" stroke-width="3.9" fill="none"/>
<circle cx="2391" cy="3035" r="16.5" stroke="#681616" stroke-width="3.9" fill="none"/>
<path d="M390.9 2860.5L424.9 2840.5L424.9 2880.5Z" stroke="#681616" stroke-width="3.9" fill="none" stroke-linejoin="miter"/>
<path d="M476.3 2860.5L510.3 2840.5L510.3 2880.5Z" stroke="#681616" stroke-width="3.9" fill="none" stroke-linejoin="miter"/>
<path d="M562 2864.5L596 2844.5L596 2884.5Z" stroke="#681616" stroke-width="3.9" fill="none" stroke-linejoin="miter"/>
<path d="M647.5 2868L681.5 2848L681.5 2888Z" stroke="#681616" stroke-width="3.9" fill="none" stroke-linejoin="miter"/>
<path d="M736.6 2872.4L770.6 2852.4L770.6 2892.4Z" stroke="#681616" stroke-width="3.9" fill="none" stroke-linejoin="miter"/>
<path d="M822.6 2872.4L856.6 2852.4L856.6 2892.4Z" stroke="#681616" stroke-width="3.9" fill="none" stroke-linejoin="miter"/>
<path d="M907.7 2876.8L941.7 2856.8L941.7 2896.8Z" stroke="#681616" stroke-width="3.9" fill="none" stroke-linejoin="miter"/>
<path d="M993.5 2880.3L1027.5 2860.3L1027.5 2900.3Z" stroke="#681616" stroke-width="3.9" fill="none" stroke-linejoin="miter"/>
<path d="M1079.3 2885L1113.3 2865L1113.3 2905Z" stroke="#681616" stroke-width="3.9" fill="none" stroke-linejoin="miter"/>
<path d="M1165.1 2885L1199.1 2865L1199.1 2905Z" stroke="#681616" stroke-width="3.9" fill="none" stroke-linejoin="miter"/>
<path d="M1250.3 2888.6L1284.3 2868.6L1284.3 2908.6Z" stroke="#681616" stroke-width="3.9" fill="none" stroke-linejoin="miter"/>
<path d="M1336 2893L1370 2873L1370 2913Z" stroke="#681616" stroke-width="3.9" fill="none" stroke-linejoin="miter"/>
<path d="M1421.8 2893.9L1455.8 2873.9L1455.8 2913.9Z" stroke="#681616" stroke-width="3.9" fill="none" stroke-linejoin="miter"/>
<path d="M1510.5 2897.4L1544.5 2877.4L1544.5 2917.4Z" stroke="#681616" stroke-width="3.9" fill="none" stroke-linejoin="miter"/>
<path d="M1596.4 2897.4L1630.4 2877.4L1630.4 2917.4Z" stroke="#681616" stroke-width="3.9" fill="none" stroke-linejoin="miter"/>
<path d="M1681.8 2901.8L1715.8 2881.8L1715.8 2921.8Z" stroke="#681616" stroke-width="3.9" fill="none" stroke-linejoin="miter"/>
<path d="M1767.3 2907.8L1801.3 2887.8L1801.3 2927.8Z" stroke="#681616" stroke-width="3.9" fill="none" stroke-linejoin="miter"/>
<path d="M1853.2 2907.8L1887.2 2887.8L1887.2 2927.8Z" stroke="#681616" stroke-width="3.9" fill="none" stroke-linejoin="miter"/>
<path d="M1938.3 2913L1972.3 2893L1972.3 2933Z" stroke="#681616" stroke-width="3.9" fill="none" stroke-linejoin="miter"/>
<path d="M2024 2917L2058 2897L2058 2937Z" stroke="#681616" stroke-width="3.9" fill="none" stroke-linejoin="miter"/>
<path d="M2109.5 2925.3L2143.5 2905.3L2143.5 2945.3Z" stroke="#681616" stroke-width="3.9" fill="none" stroke-linejoin="miter"/>
<path d="M2194.6 2932.5L2228.6 2912.5L2228.6 2952.5Z" stroke="#681616" stroke-width="3.9" fill="none" stroke-linejoin="miter"/>
<path d="M2280.5 2955L2314.5 2935L2314.5 2975Z" stroke="#681616" stroke-width="3.9" fill="none" stroke-linejoin="miter"/>
<path d="M2370 2992L2404 2972L2404 3012Z" stroke="#681616" stroke-width="3.9" fill="none" stroke-linejoin="miter"/>
<path d="M2370 3012L2404 2992L2404 3032Z" stroke="#681616" stroke-width="3.9" fill="none" stroke-linejoin="miter"/>
<rect x="395.9" y="2648.7" width="32" height="32" stroke="#681616" stroke-width="3.9" fill="none"/>
<rect x="481.3" y="2652.7" width="32" height="32" stroke="#681616" stroke-width="3.9" fill="none"/>
<rect x="567" y="2660.6" width="32" height="32" stroke="#681616" stroke-width="3.9" fill="none"/>
<rect x="652.5" y="2669.4" width="32" height="32" stroke="#681616" stroke-width="3.9" fill="none"/>
<rect x="741.6" y="2677.3" width="32" height="32" stroke="#681616" stroke-width="3.9" fill="none"/>
<rect x="827.6" y="2685.7" width="32" height="32" stroke="#681616" stroke-width="3.9" fill="none"/>
<rect x="912.7" y="2698" width="32" height="32" stroke="#681616" stroke-width="3.9" fill="none"/>
<rect x="998.5" y="2710.3" width="32" height="32" stroke="#681616" stroke-width="3.9" fill="none"/>
<rect x="1084.3" y="2717.7" width="32" height="32" stroke="#681616" stroke-width="3.9" fill="none"/>
<rect x="1170.1" y="2730.5" width="32" height="32" stroke="#681616" stroke-width="3.9" fill="none"/>
<rect x="1255.3" y="2741.9" width="32" height="32" stroke="#681616" stroke-width="3.9" fill="none"/>
<rect x="1341" y="2750.7" width="32" height="32" stroke="#681616" stroke-width="3.9" fill="none"/>
<rect x="1426.8" y="2758.2" width="32" height="32" stroke="#681616" stroke-width="3.9" fill="none"/>
<rect x="1515.5" y="2770" width="32" height="32" stroke="#681616" stroke-width="3.9" fill="none"/>
<rect x="1601.4" y="2778.9" width="32" height="32" stroke="#681616" stroke-width="3.9" fill="none"/>
<rect x="1686.8" y="2787.7" width="32" height="32" stroke="#681616" stroke-width="3.9" fill="none"/>
<rect x="1772.3" y="2799.4" width="32" height="32" stroke="#681616" stroke-width="3.9" fill="none"/>
<rect x="1858.2" y="2806.9" width="32" height="32" stroke="#681616" stroke-width="3.9" fill="none"/>
<rect x="1943.3" y="2819.5" width="32" height="32" stroke="#681616" stroke-width="3.9" fill="none"/>
<rect x="2029" y="2832" width="32" height="32" stroke="#681616" stroke-width="3.9" fill="none"/>
<rect x="2114.5" y="2842" width="32" height="32" stroke="#681616" stroke-width="3.9" fill="none"/>
<rect x="2199.6" y="2858" width="32" height="32" stroke="#681616" stroke-width="3.9" fill="none"/>
<rect x="2285.5" y="2888" width="32" height="32" stroke="#681616" stroke-width="3.9" fill="none"/>
<rect x="2375" y="2924" width="32" height="32" stroke="#681616" stroke-width="3.9" fill="none"/>
<path d="M411.9 2455.3L432.4 2489.8L391.4 2489.8Z" stroke="#121228" stroke-width="3.9" fill="none" stroke-linejoin="miter"/>
<path d="M497.3 2496.7L517.8 2531.2L476.8 2531.2Z" stroke="#121228" stroke-width="3.9" fill="none" stroke-linejoin="miter"/>
<path d="M583 2536.8L603.5 2571.2L562.5 2571.2Z" stroke="#121228" stroke-width="3.9" fill="none" stroke-linejoin="miter"/>
<path d="M668.5 2573.7L689 2608.2L648 2608.2Z" stroke="#121228" stroke-width="3.9" fill="none" stroke-linejoin="miter"/>
<path d="M757.6 2610.6L778.1 2645.1L737.1 2645.1Z" stroke="#121228" stroke-width="3.9" fill="none" stroke-linejoin="miter"/>
<path d="M843.6 2638.7L864.1 2673.2L823.1 2673.2Z" stroke="#121228" stroke-width="3.9" fill="none" stroke-linejoin="miter"/>
<path d="M928.7 2667.2L949.2 2701.8L908.2 2701.8Z" stroke="#121228" stroke-width="3.9" fill="none" stroke-linejoin="miter"/>
<path d="M1014.5 2696.2L1035 2730.8L994 2730.8Z" stroke="#121228" stroke-width="3.9" fill="none" stroke-linejoin="miter"/>
<path d="M1100.3 2719.9L1120.8 2754.4L1079.8 2754.4Z" stroke="#121228" stroke-width="3.9" fill="none" stroke-linejoin="miter"/>
<path d="M1186.1 2744.7L1206.6 2779.2L1165.6 2779.2Z" stroke="#121228" stroke-width="3.9" fill="none" stroke-linejoin="miter"/>
<path d="M1271.3 2765.2L1291.8 2799.8L1250.8 2799.8Z" stroke="#121228" stroke-width="3.9" fill="none" stroke-linejoin="miter"/>
<path d="M1357 2785.6L1377.5 2820.1L1336.5 2820.1Z" stroke="#121228" stroke-width="3.9" fill="none" stroke-linejoin="miter"/>
<path d="M1442.8 2801.3L1463.3 2835.8L1422.3 2835.8Z" stroke="#121228" stroke-width="3.9" fill="none" stroke-linejoin="miter"/>
<path d="M1531.5 2816.8L1552 2851.2L1511 2851.2Z" stroke="#121228" stroke-width="3.9" fill="none" stroke-linejoin="miter"/>
<path d="M1617.4 2834.3L1637.9 2868.8L1596.9 2868.8Z" stroke="#121228" stroke-width="3.9" fill="none" stroke-linejoin="miter"/>
<path d="M1702.8 2846.8L1723.3 2881.2L1682.3 2881.2Z" stroke="#121228" stroke-width="3.9" fill="none" stroke-linejoin="miter"/>
<path d="M1788.3 2858.4L1808.8 2892.9L1767.8 2892.9Z" stroke="#121228" stroke-width="3.9" fill="none" stroke-linejoin="miter"/>
<path d="M1874.2 2871.7L1894.7 2906.2L1853.7 2906.2Z" stroke="#121228" stroke-width="3.9" fill="none" stroke-linejoin="miter"/>
<path d="M1959.3 2883.8L1979.8 2918.2L1938.8 2918.2Z" stroke="#121228" stroke-width="3.9" fill="none" stroke-linejoin="miter"/>
<path d="M2045 2895.3L2065.5 2929.8L2024.5 2929.8Z" stroke="#121228" stroke-width="3.9" fill="none" stroke-linejoin="miter"/>
<path d="M2130.5 2904.4L2151 2938.9L2110 2938.9Z" stroke="#121228" stroke-width="3.9" fill="none" stroke-linejoin="miter"/>
<path d="M2215.6 2912.3L2236.1 2946.8L2195.1 2946.8Z" stroke="#121228" stroke-width="3.9" fill="none" stroke-linejoin="miter"/>
<path d="M2301.5 2921.2L2322 2955.8L2281 2955.8Z" stroke="#121228" stroke-width="3.9" fill="none" stroke-linejoin="miter"/>
<path d="M2391 2957.8L2411.5 2992.2L2370.5 2992.2Z" stroke="#121228" stroke-width="3.9" fill="none" stroke-linejoin="miter"/>
<path d="M2391 2984.8L2411.5 3019.2L2370.5 3019.2Z" stroke="#121228" stroke-width="3.9" fill="none" stroke-linejoin="miter"/>
<path d="M411.9 2195.5L427.4 2215.5L411.9 2235.5L396.4 2215.5Z" stroke="#121228" stroke-width="3.9" fill="none" stroke-linejoin="miter"/>
<path d="M497.3 2256.8L512.8 2276.8L497.3 2296.8L481.8 2276.8Z" stroke="#121228" stroke-width="3.9" fill="none" stroke-linejoin="miter"/>
<path d="M583 2311.8L598.5 2331.8L583 2351.8L567.5 2331.8Z" stroke="#121228" stroke-width="3.9" fill="none" stroke-linejoin="miter"/>
<path d="M668.5 2366.8L684 2386.8L668.5 2406.8L653 2386.8Z" stroke="#121228" stroke-width="3.9" fill="none" stroke-linejoin="miter"/>
<path d="M757.6 2421.8L773.1 2441.8L757.6 2461.8L742.1 2441.8Z" stroke="#121228" stroke-width="3.9" fill="none" stroke-linejoin="miter"/>
<path d="M843.6 2473.3L859.1 2493.3L843.6 2513.3L828.1 2493.3Z" stroke="#121228" stroke-width="3.9" fill="none" stroke-linejoin="miter"/>
<path d="M928.7 2521.6L944.2 2541.6L928.7 2561.6L913.2 2541.6Z" stroke="#121228" stroke-width="3.9" fill="none" stroke-linejoin="miter"/>
<path d="M1014.5 2567.8L1030 2587.8L1014.5 2607.8L999 2587.8Z" stroke="#121228" stroke-width="3.9" fill="none" stroke-linejoin="miter"/>
<path d="M1100.3 2612L1115.8 2632L1100.3 2652L1084.8 2632Z" stroke="#121228" stroke-width="3.9" fill="none" stroke-linejoin="miter"/>
<path d="M1186.1 2656.7L1201.6 2676.7L1186.1 2696.7L1170.6 2676.7Z" stroke="#121228" stroke-width="3.9" fill="none" stroke-linejoin="miter"/>
<path d="M1271.3 2697.2L1286.8 2717.2L1271.3 2737.2L1255.8 2717.2Z" stroke="#121228" stroke-width="3.9" fill="none" stroke-linejoin="miter"/>
<path d="M1357 2733.5L1372.5 2753.5L1357 2773.5L1341.5 2753.5Z" stroke="#121228" stroke-width="3.9" fill="none" stroke-linejoin="miter"/>
<path d="M1442.8 2771.8L1458.3 2791.8L1442.8 2811.8L1427.3 2791.8Z" stroke="#121228" stroke-width="3.9" fill="none" stroke-linejoin="miter"/>
<path d="M1531.5 2804.8L1547 2824.8L1531.5 2844.8L1516 2824.8Z" stroke="#121228" stroke-width="3.9" fill="none" stroke-linejoin="miter"/>
<path d="M1617.4 2835.6L1632.9 2855.6L1617.4 2875.6L1601.9 2855.6Z" stroke="#121228" stroke-width="3.9" fill="none" stroke-linejoin="miter"/>
<path d="M1702.8 2862L1718.3 2882L1702.8 2902L1687.3 2882Z" stroke="#121228" stroke-width="3.9" fill="none" stroke-linejoin="miter"/>
<path d="M1788.3 2890L1803.8 2910L1788.3 2930L1772.8 2910Z" stroke="#121228" stroke-width="3.9" fill="none" stroke-linejoin="miter"/>
<path d="M1874.2 2914.2L1889.7 2934.2L1874.2 2954.2L1858.7 2934.2Z" stroke="#121228" stroke-width="3.9" fill="none" stroke-linejoin="miter"/>
<path d="M1959.3 2934L1974.8 2954L1959.3 2974L1943.8 2954Z" stroke="#121228" stroke-width="3.9" fill="none" stroke-linejoin="miter"/>
<path d="M2045 2954L2060.5 2974L2045 2994L2029.5 2974Z" stroke="#121228" stroke-width="3.9" fill="none" stroke-linejoin="miter"/>
<path d="M2130.5 2975L2146 2995L2130.5 3015L2115 2995Z" stroke="#121228" stroke-width="3.9" fill="none" stroke-linejoin="miter"/>
<path d="M2215.6 2991.5L2231.1 3011.5L2215.6 3031.5L2200.1 3011.5Z" stroke="#121228" stroke-width="3.9" fill="none" stroke-linejoin="miter"/>
<path d="M2301.5 3007L2317 3027L2301.5 3047L2286 3027Z" stroke="#121228" stroke-width="3.9" fill="none" stroke-linejoin="miter"/>
<path d="M2391 3027L2406.5 3047L2391 3067L2375.5 3047Z" stroke="#121228" stroke-width="3.9" fill="none" stroke-linejoin="miter"/>
<path d="M2391 3039L2406.5 3059L2391 3079L2375.5 3059Z" stroke="#121228" stroke-width="3.9" fill="none" stroke-linejoin="miter"/>
<path d="M432.9 1840.6L398.9 1820.6L398.9 1860.6Z" stroke="#121228" stroke-width="3.9" fill="none" stroke-linejoin="miter"/>
<path d="M518.3 1918.5L484.3 1898.5L484.3 1938.5Z" stroke="#121228" stroke-width="3.9" fill="none" stroke-linejoin="miter"/>
<path d="M604 1992.4L570 1972.4L570 2012.4Z" stroke="#121228" stroke-width="3.9" fill="none" stroke-linejoin="miter"/>
<path d="M689.5 2057L655.5 2037L655.5 2077Z" stroke="#121228" stroke-width="3.9" fill="none" stroke-linejoin="miter"/>
<path d="M778.6 2117.8L744.6 2097.8L744.6 2137.8Z" stroke="#121228" stroke-width="3.9" fill="none" stroke-linejoin="miter"/>
<path d="M864.6 2180L830.6 2160L830.6 2200Z" stroke="#121228" stroke-width="3.9" fill="none" stroke-linejoin="miter"/>
<path d="M949.7 2239.5L915.7 2219.5L915.7 2259.5Z" stroke="#121228" stroke-width="3.9" fill="none" stroke-linejoin="miter"/>
<path d="M1035.5 2297.5L1001.5 2277.5L1001.5 2317.5Z" stroke="#121228" stroke-width="3.9" fill="none" stroke-linejoin="miter"/>
<path d="M1121.3 2353L1087.3 2333L1087.3 2373Z" stroke="#121228" stroke-width="3.9" fill="none" stroke-linejoin="miter"/>
<path d="M1207.1 2410.7L1173.1 2390.7L1173.1 2430.7Z" stroke="#121228" stroke-width="3.9" fill="none" stroke-linejoin="miter"/>
<path d="M1292.3 2464.4L1258.3 2444.4L1258.3 2484.4Z" stroke="#121228" stroke-width="3.9" fill="none" stroke-linejoin="miter"/>
<path d="M1378 2512.8L1344 2492.8L1344 2532.8Z" stroke="#121228" stroke-width="3.9" fill="none" stroke-linejoin="miter"/>
<path d="M1463.8 2557.7L1429.8 2537.7L1429.8 2577.7Z" stroke="#121228" stroke-width="3.9" fill="none" stroke-linejoin="miter"/>
<path d="M1552.5 2605L1518.5 2585L1518.5 2625Z" stroke="#121228" stroke-width="3.9" fill="none" stroke-linejoin="miter"/>
<path d="M1638.4 2653.3L1604.4 2633.3L1604.4 2673.3Z" stroke="#121228" stroke-width="3.9" fill="none" stroke-linejoin="miter"/>
<path d="M1723.8 2692.5L1689.8 2672.5L1689.8 2712.5Z" stroke="#121228" stroke-width="3.9" fill="none" stroke-linejoin="miter"/>
<path d="M1809.3 2729.6L1775.3 2709.6L1775.3 2749.6Z" stroke="#121228" stroke-width="3.9" fill="none" stroke-linejoin="miter"/>
<path d="M1895.2 2767L1861.2 2747L1861.2 2787Z" stroke="#121228" stroke-width="3.9" fill="none" stroke-linejoin="miter"/>
<path d="M1980.3 2800L1946.3 2780L1946.3 2820Z" stroke="#121228" stroke-width="3.9" fill="none" stroke-linejoin="miter"/>
<path d="M2066 2844L2032 2824L2032 2864Z" stroke="#121228" stroke-width="3.9" fill="none" stroke-linejoin="miter"/>
<path d="M2151.5 2882L2117.5 2862L2117.5 2902Z" stroke="#121228" stroke-width="3.9" fill="none" stroke-linejoin="miter"/>
<path d="M2236.6 2917L2202.6 2897L2202.6 2937Z" stroke="#121228" stroke-width="3.9" fill="none" stroke-linejoin="miter"/>
<path d="M2322.5 2954L2288.5 2934L2288.5 2974Z" stroke="#121228" stroke-width="3.9" fill="none" stroke-linejoin="miter"/>
<path d="M2412 2978L2378 2958L2378 2998Z" stroke="#121228" stroke-width="3.9" fill="none" stroke-linejoin="miter"/>
<path d="M2412 3000L2378 2980L2378 3020Z" stroke="#121228" stroke-width="3.9" fill="none" stroke-linejoin="miter"/>
<path d="M411.9 2046.9L429.4 2069.4L411.9 2091.9L394.4 2069.4Z" stroke="#000000" stroke-width="0" fill="#000000" stroke-linejoin="miter"/>
<path d="M497.3 2091.8L514.8 2114.3L497.3 2136.8L479.8 2114.3Z" stroke="#000000" stroke-width="0" fill="#000000" stroke-linejoin="miter"/>
<path d="M583 2140.6L600.5 2163.1L583 2185.6L565.5 2163.1Z" stroke="#000000" stroke-width="0" fill="#000000" stroke-linejoin="miter"/>
<path d="M668.5 2189.1L686 2211.6L668.5 2234.1L651 2211.6Z" stroke="#000000" stroke-width="0" fill="#000000" stroke-linejoin="miter"/>
<path d="M757.6 2236.5L775.1 2259L757.6 2281.5L740.1 2259Z" stroke="#000000" stroke-width="0" fill="#000000" stroke-linejoin="miter"/>
<path d="M843.6 2284.2L861.1 2306.7L843.6 2329.2L826.1 2306.7Z" stroke="#000000" stroke-width="0" fill="#000000" stroke-linejoin="miter"/>
<path d="M928.7 2328.2L946.2 2350.7L928.7 2373.2L911.2 2350.7Z" stroke="#000000" stroke-width="0" fill="#000000" stroke-linejoin="miter"/>
<path d="M1014.5 2370L1032 2392.5L1014.5 2415L997 2392.5Z" stroke="#000000" stroke-width="0" fill="#000000" stroke-linejoin="miter"/>
<path d="M1100.3 2410.2L1117.8 2432.7L1100.3 2455.2L1082.8 2432.7Z" stroke="#000000" stroke-width="0" fill="#000000" stroke-linejoin="miter"/>
<path d="M1186.1 2446.3L1203.6 2468.8L1186.1 2491.3L1168.6 2468.8Z" stroke="#000000" stroke-width="0" fill="#000000" stroke-linejoin="miter"/>
<path d="M1271.3 2483.7L1288.8 2506.2L1271.3 2528.7L1253.8 2506.2Z" stroke="#000000" stroke-width="0" fill="#000000" stroke-linejoin="miter"/>
<path d="M1357 2521.1L1374.5 2543.6L1357 2566.1L1339.5 2543.6Z" stroke="#000000" stroke-width="0" fill="#000000" stroke-linejoin="miter"/>
<path d="M1442.8 2554.1L1460.3 2576.6L1442.8 2599.1L1425.3 2576.6Z" stroke="#000000" stroke-width="0" fill="#000000" stroke-linejoin="miter"/>
<path d="M1531.5 2578.3L1549 2600.8L1531.5 2623.3L1514 2600.8Z" stroke="#000000" stroke-width="0" fill="#000000" stroke-linejoin="miter"/>
<path d="M1617.4 2606.9L1634.9 2629.4L1617.4 2651.9L1599.9 2629.4Z" stroke="#000000" stroke-width="0" fill="#000000" stroke-linejoin="miter"/>
<path d="M1702.8 2636.5L1720.3 2659L1702.8 2681.5L1685.3 2659Z" stroke="#000000" stroke-width="0" fill="#000000" stroke-linejoin="miter"/>
<path d="M1788.3 2665.3L1805.8 2687.8L1788.3 2710.3L1770.8 2687.8Z" stroke="#000000" stroke-width="0" fill="#000000" stroke-linejoin="miter"/>
<path d="M1874.2 2687.3L1891.7 2709.8L1874.2 2732.3L1856.7 2709.8Z" stroke="#000000" stroke-width="0" fill="#000000" stroke-linejoin="miter"/>
<path d="M1959.3 2711.5L1976.8 2734L1959.3 2756.5L1941.8 2734Z" stroke="#000000" stroke-width="0" fill="#000000" stroke-linejoin="miter"/>
<path d="M2045 2731.3L2062.5 2753.8L2045 2776.3L2027.5 2753.8Z" stroke="#000000" stroke-width="0" fill="#000000" stroke-linejoin="miter"/>
<path d="M2130.5 2755.5L2148 2778L2130.5 2800.5L2113 2778Z" stroke="#000000" stroke-width="0" fill="#000000" stroke-linejoin="miter"/>
<path d="M2215.6 2780.5L2233.1 2803L2215.6 2825.5L2198.1 2803Z" stroke="#000000" stroke-width="0" fill="#000000" stroke-linejoin="miter"/>
<path d="M2301.5 2813L2319 2835.5L2301.5 2858L2284 2835.5Z" stroke="#000000" stroke-width="0" fill="#000000" stroke-linejoin="miter"/>
<path d="M2391 2845L2408.5 2867.5L2391 2890L2373.5 2867.5Z" stroke="#000000" stroke-width="0" fill="#000000" stroke-linejoin="miter"/>
<path d="M2391 2850.5L2408.5 2873L2391 2895.5L2373.5 2873Z" stroke="#000000" stroke-width="0" fill="#000000" stroke-linejoin="miter"/>
<circle cx="411.9" cy="1918.5" r="17" stroke="#0000a0" stroke-width="2" fill="#0000ee"/>
<circle cx="497.3" cy="1995.9" r="17" stroke="#0000a0" stroke-width="2" fill="#0000ee"/>
<circle cx="583" cy="2060.6" r="17" stroke="#0000a0" stroke-width="2" fill="#0000ee"/>
<circle cx="668.5" cy="2122.2" r="17" stroke="#0000a0" stroke-width="2" fill="#0000ee"/>
<circle cx="757.6" cy="2180" r="17" stroke="#0000a0" stroke-width="2" fill="#0000ee"/>
<circle cx="843.6" cy="2235.8" r="17" stroke="#0000a0" stroke-width="2" fill="#0000ee"/>
<circle cx="928.7" cy="2289.1" r="17" stroke="#0000a0" stroke-width="2" fill="#0000ee"/>
<circle cx="1014.5" cy="2342.8" r="17" stroke="#0000a0" stroke-width="2" fill="#0000ee"/>
<circle cx="1100.3" cy="2391.8" r="17" stroke="#0000a0" stroke-width="2" fill="#0000ee"/>
<circle cx="1186.1" cy="2441.5" r="17" stroke="#0000a0" stroke-width="2" fill="#0000ee"/>
<circle cx="1271.3" cy="2489.9" r="17" stroke="#0000a0" stroke-width="2" fill="#0000ee"/>
<circle cx="1357" cy="2535.7" r="17" stroke="#0000a0" stroke-width="2" fill="#0000ee"/>
<circle cx="1442.8" cy="2575.3" r="17" stroke="#0000a0" stroke-width="2" fill="#0000ee"/>
<circle cx="1531.5" cy="2605.2" r="17" stroke="#0000a0" stroke-width="2" fill="#0000ee"/>
<circle cx="1617.4" cy="2645" r="17" stroke="#0000a0" stroke-width="2" fill="#0000ee"/>
<circle cx="1702.8" cy="2682" r="17" stroke="#0000a0" stroke-width="2" fill="#0000ee"/>
<circle cx="1788.3" cy="2712.9" r="17" stroke="#0000a0" stroke-width="2" fill="#0000ee"/>
<circle cx="1874.2" cy="2749.4" r="17" stroke="#0000a0" stroke-width="2" fill="#0000ee"/>
<circle cx="1959.3" cy="2778.9" r="17" stroke="#0000a0" stroke-width="2" fill="#0000ee"/>
<circle cx="2045" cy="2806.6" r="17" stroke="#0000a0" stroke-width="2" fill="#0000ee"/>
<circle cx="2130.5" cy="2835.8" r="17" stroke="#0000a0" stroke-width="2" fill="#0000ee"/>
<circle cx="2215.6" cy="2859.4" r="17" stroke="#0000a0" stroke-width="2" fill="#0000ee"/>
<circle cx="2301.5" cy="2886.7" r="17" stroke="#0000a0" stroke-width="2" fill="#0000ee"/>
<circle cx="2391" cy="2911" r="17" stroke="#0000a0" stroke-width="2" fill="#0000ee"/>
<circle cx="2391" cy="2996" r="17" stroke="#0000a0" stroke-width="2" fill="#0000ee"/>
<rect x="394.9" y="2252.3" width="34" height="34" stroke="#c80000" stroke-width="2" fill="#ff0000"/>
<rect x="480.3" y="2300.7" width="34" height="34" stroke="#c80000" stroke-width="2" fill="#ff0000"/>
<rect x="566" y="2345.6" width="34" height="34" stroke="#c80000" stroke-width="2" fill="#ff0000"/>
<rect x="651.5" y="2390.5" width="34" height="34" stroke="#c80000" stroke-width="2" fill="#ff0000"/>
<rect x="740.6" y="2431.4" width="34" height="34" stroke="#c80000" stroke-width="2" fill="#ff0000"/>
<rect x="826.6" y="2471.9" width="34" height="34" stroke="#c80000" stroke-width="2" fill="#ff0000"/>
<rect x="911.7" y="2508.4" width="34" height="34" stroke="#c80000" stroke-width="2" fill="#ff0000"/>
<rect x="997.5" y="2541.4" width="34" height="34" stroke="#c80000" stroke-width="2" fill="#ff0000"/>
<rect x="1083.3" y="2574.1" width="34" height="34" stroke="#c80000" stroke-width="2" fill="#ff0000"/>
<rect x="1169.1" y="2602.7" width="34" height="34" stroke="#c80000" stroke-width="2" fill="#ff0000"/>
<rect x="1254.3" y="2631.1" width="34" height="34" stroke="#c80000" stroke-width="2" fill="#ff0000"/>
<rect x="1340" y="2659.7" width="34" height="34" stroke="#c80000" stroke-width="2" fill="#ff0000"/>
<rect x="1425.8" y="2683.3" width="34" height="34" stroke="#c80000" stroke-width="2" fill="#ff0000"/>
<rect x="1514.5" y="2708.8" width="34" height="34" stroke="#c80000" stroke-width="2" fill="#ff0000"/>
<rect x="1600.4" y="2728.6" width="34" height="34" stroke="#c80000" stroke-width="2" fill="#ff0000"/>
<rect x="1685.8" y="2750.6" width="34" height="34" stroke="#c80000" stroke-width="2" fill="#ff0000"/>
<rect x="1771.3" y="2770.7" width="34" height="34" stroke="#c80000" stroke-width="2" fill="#ff0000"/>
<rect x="1857.2" y="2787.4" width="34" height="34" stroke="#c80000" stroke-width="2" fill="#ff0000"/>
<rect x="1942.3" y="2807.2" width="34" height="34" stroke="#c80000" stroke-width="2" fill="#ff0000"/>
<rect x="2028" y="2822.3" width="34" height="34" stroke="#c80000" stroke-width="2" fill="#ff0000"/>
<rect x="2113.5" y="2840.5" width="34" height="34" stroke="#c80000" stroke-width="2" fill="#ff0000"/>
<rect x="2198.6" y="2857" width="34" height="34" stroke="#c80000" stroke-width="2" fill="#ff0000"/>
<rect x="2284.5" y="2879.5" width="34" height="34" stroke="#c80000" stroke-width="2" fill="#ff0000"/>
<rect x="2374" y="2906" width="34" height="34" stroke="#c80000" stroke-width="2" fill="#ff0000"/>
<rect x="2374" y="2929.5" width="34" height="34" stroke="#c80000" stroke-width="2" fill="#ff0000"/>
<rect x="2374" y="3018" width="34" height="34" stroke="#c80000" stroke-width="2" fill="#ff0000"/>
<path d="M2391 2953.8L2411.5 2988.2L2370.5 2988.2Z" fill="#0808a8" stroke="#0808a8" stroke-width="3.9"/>
<path d="M2391 2983.8L2411.5 3018.2L2370.5 3018.2Z" fill="#0808a8" stroke="#0808a8" stroke-width="3.9"/>
<circle cx="2391" cy="2977" r="17" stroke="#0000a0" stroke-width="2" fill="#0000ee"/>
<circle cx="2391" cy="2998" r="17" stroke="#0000a0" stroke-width="2" fill="#0000ee"/>
<path d="M2391 3027L2406.5 3047L2391 3067L2375.5 3047Z" stroke="#0808a8" stroke-width="5.4" fill="none" stroke-linejoin="miter"/>
<path d="M2391 3039L2406.5 3059L2391 3079L2375.5 3059Z" stroke="#0808a8" stroke-width="5.4" fill="none" stroke-linejoin="miter"/>
<path d="M375.6 1804.6H2427.5V3238.8H375.6Z" fill="none" stroke="#1a1a1a" stroke-width="4.3"/>
<text x="356.5" y="1962" font-family='"Liberation Sans", Arial, sans-serif' font-size="79" text-anchor="end" font-weight="normal" stroke="#000" stroke-width="1.3">50000</text>
<text x="356.5" y="2419.1" font-family='"Liberation Sans", Arial, sans-serif' font-size="79" text-anchor="end" font-weight="normal" stroke="#000" stroke-width="1.3">10000</text>
<text x="356.5" y="2614.1" font-family='"Liberation Sans", Arial, sans-serif' font-size="79" text-anchor="end" font-weight="normal" stroke="#000" stroke-width="1.3">5000</text>
<text x="356.5" y="3066.3" font-family='"Liberation Sans", Arial, sans-serif' font-size="79" text-anchor="end" font-weight="normal" stroke="#000" stroke-width="1.3">1000</text>
<text x="356.5" y="3270.5" font-family='"Liberation Sans", Arial, sans-serif' font-size="79" text-anchor="end" font-weight="normal" stroke="#000" stroke-width="1.3">500</text>
<path d="M412.9 3238.8v-15M412.9 1804.6v10.3M481 3238.8v-15M481 1804.6v10.3M538.6 3238.8v-15M538.6 1804.6v10.3M588.5 3238.8v-15M588.5 1804.6v10.3M632.4 3238.8v-15M632.4 1804.6v10.3M671.8 3238.8v-27.2M671.8 1804.6v22M930.7 3238.8v-15M930.7 1804.6v10.3M1082.1 3238.8v-15M1082.1 1804.6v10.3M1189.6 3238.8v-15M1189.6 1804.6v10.3M1272.9 3238.8v-15M1272.9 1804.6v10.3M1341 3238.8v-15M1341 1804.6v10.3M1398.6 3238.8v-15M1398.6 1804.6v10.3M1448.5 3238.8v-15M1448.5 1804.6v10.3M1492.4 3238.8v-15M1492.4 1804.6v10.3M1531.8 3238.8v-27.2M1531.8 1804.6v22M1790.7 3238.8v-15M1790.7 1804.6v10.3M1942.1 3238.8v-15M1942.1 1804.6v10.3M2049.6 3238.8v-15M2049.6 1804.6v10.3M2132.9 3238.8v-15M2132.9 1804.6v10.3M2201 3238.8v-15M2201 1804.6v10.3M2258.6 3238.8v-15M2258.6 1804.6v10.3M2308.5 3238.8v-15M2308.5 1804.6v10.3M2352.4 3238.8v-15M2352.4 1804.6v10.3M2391.8 3238.8v-27.2M2391.8 1804.6v22M375.6 1934.5h22.5M2427.5 1934.5h-26M375.6 1999.8h10.0M2427.5 1999.8h-14.2M375.6 2080.8h10.0M2427.5 2080.8h-14.2M375.6 2195.4h10.0M2427.5 2195.4h-14.2M375.6 2391.6h22.5M2427.5 2391.6h-26M375.6 2586.6h22.5M2427.5 2586.6h-26M375.6 2646.8h10.0M2427.5 2646.8h-14.2M375.6 2729h10.0M2427.5 2729h-14.2M375.6 2843.6h10.0M2427.5 2843.6h-14.2M375.6 3038.8h22.5M2427.5 3038.8h-26" stroke="#1a1a1a" stroke-width="4.3" fill="none"/>
<text x="672.5" y="3322" font-family='"Liberation Sans", Arial, sans-serif' font-size="79" text-anchor="middle" font-weight="normal" stroke="#000" stroke-width="1.3">0.1</text>
<text x="1533" y="3322" font-family='"Liberation Sans", Arial, sans-serif' font-size="79" text-anchor="middle" font-weight="normal" stroke="#000" stroke-width="1.3">1</text>
<text x="2361.5" y="3322" font-family='"Liberation Sans", Arial, sans-serif' font-size="79" text-anchor="middle" font-weight="normal" stroke="#000" stroke-width="1.3">10</text>
<text transform="translate(91 2681) rotate(-90)" font-family='"Liberation Sans", Arial, sans-serif' font-size="88" stroke="#000" stroke-width="1.4" textLength="56.3" lengthAdjust="spacingAndGlyphs">η</text>
<text transform="translate(91 2603) rotate(-90)" font-family='"Liberation Sans", Arial, sans-serif' font-size="88" stroke="#000" stroke-width="1.4" textLength="231.3" lengthAdjust="spacingAndGlyphs">[Pa.s]</text>
<text x="1291" y="3446.5" font-family='"Liberation Sans", Arial, sans-serif' font-size="87" stroke="#000" stroke-width="1"><tspan font-size="72" stroke="none">γ</tspan><tspan dx="5" stroke="none">'</tspan><tspan x="1343.5">[</tspan><tspan dx="3.5">s</tspan><tspan font-size="67" dy="-40" dx="1" stroke="none">-1</tspan><tspan dy="40" dx="-1">]</tspan></text>
<text x="1171" y="1989.3" font-family='"Liberation Sans", Arial, sans-serif' font-size="78" text-anchor="start" font-weight="normal" textLength="282" lengthAdjust="spacingAndGlyphs" stroke="#000" stroke-width="1.3">(b) M.M.</text>
<text x="1176" y="3564" font-family='"Liberation Serif", "Times New Roman", serif' font-size="88" textLength="101" lengthAdjust="spacingAndGlyphs">(<tspan font-weight="bold">b</tspan>)</text>
<rect x="1687.5" y="1832.8" width="716" height="766.4" fill="#fff" stroke="#1a1a1a" stroke-width="4.3"/>
<text x="1894" y="1891.5" font-family='"Liberation Sans", Arial, sans-serif' font-size="44" text-anchor="start" font-weight="normal" textLength="167" lengthAdjust="spacingAndGlyphs" stroke="#000" stroke-width="0.7">PLA exp</text>
<text x="1894" y="1958.4" font-family='"Liberation Sans", Arial, sans-serif' font-size="44" text-anchor="start" font-weight="normal" textLength="253" lengthAdjust="spacingAndGlyphs" stroke="#000" stroke-width="0.7">PLA Carreau</text>
<text x="1894" y="2024.8" font-family='"Liberation Sans", Arial, sans-serif' font-size="44" text-anchor="start" font-weight="normal" textLength="186" lengthAdjust="spacingAndGlyphs" stroke="#000" stroke-width="0.7">1.5%GNP</text>
<text x="1894" y="2093.7" font-family='"Liberation Sans", Arial, sans-serif' font-size="44" text-anchor="start" font-weight="normal" textLength="149.3" lengthAdjust="spacingAndGlyphs" stroke="#000" stroke-width="0.7">3%GNP</text>
<text x="1894" y="2163" font-family='"Liberation Sans", Arial, sans-serif' font-size="44" text-anchor="start" font-weight="normal" textLength="149.3" lengthAdjust="spacingAndGlyphs" stroke="#000" stroke-width="0.7">6%GNP</text>
<text x="1894" y="2229" font-family='"Liberation Sans", Arial, sans-serif' font-size="44" text-anchor="start" font-weight="normal" textLength="253.4" lengthAdjust="spacingAndGlyphs" stroke="#000" stroke-width="0.7">1.5%MWCNP</text>
<text x="1894" y="2299.2" font-family='"Liberation Sans", Arial, sans-serif' font-size="44" text-anchor="start" font-weight="normal" textLength="217.2" lengthAdjust="spacingAndGlyphs" stroke="#000" stroke-width="0.7">3%MWCNP</text>
<text x="1894" y="2368.1" font-family='"Liberation Sans", Arial, sans-serif' font-size="44" text-anchor="start" font-weight="normal" textLength="217.2" lengthAdjust="spacingAndGlyphs" stroke="#000" stroke-width="0.7">6%MWCNP</text>
<text x="1894" y="2435" font-family='"Liberation Sans", Arial, sans-serif' font-size="44" text-anchor="start" font-weight="normal" textLength="403.3" lengthAdjust="spacingAndGlyphs" stroke="#000" stroke-width="0.7">3% GNP/3% MWCNT</text>
<text x="1894" y="2502.8" font-family='"Liberation Sans", Arial, sans-serif' font-size="44" text-anchor="start" font-weight="normal" textLength="477.7" lengthAdjust="spacingAndGlyphs" stroke="#000" stroke-width="0.7">1.5% GNP/4.5% MWCNT</text>
<text x="1894" y="2571.7" font-family='"Liberation Sans", Arial, sans-serif' font-size="44" text-anchor="start" font-weight="normal" textLength="477.7" lengthAdjust="spacingAndGlyphs" stroke="#000" stroke-width="0.7">4.5% GNP/1.5% MWCNT</text>
<path d="M1781.8 1875.5H1819.8M1800.8 1856.5V1894.5" stroke="#000000" stroke-width="3.8" fill="none"/>
<path d="M1718 1942.4H1881" stroke="#000000" stroke-width="3.4"/>
<circle cx="1800.8" cy="2008.8" r="16.5" stroke="#681616" stroke-width="3.9" fill="none"/>
<path d="M1779.8 2077.7L1813.8 2057.7L1813.8 2097.7Z" stroke="#681616" stroke-width="3.9" fill="none" stroke-linejoin="miter"/>
<rect x="1784.8" y="2131" width="32" height="32" stroke="#681616" stroke-width="3.9" fill="none"/>
<path d="M1800.8 2193.8L1821.3 2228.2L1780.3 2228.2Z" stroke="#121228" stroke-width="3.9" fill="none" stroke-linejoin="miter"/>
<path d="M1800.8 2263.2L1816.3 2283.2L1800.8 2303.2L1785.3 2283.2Z" stroke="#121228" stroke-width="3.9" fill="none" stroke-linejoin="miter"/>
<path d="M1821.8 2352.1L1787.8 2332.1L1787.8 2372.1Z" stroke="#121228" stroke-width="3.9" fill="none" stroke-linejoin="miter"/>
<path d="M1800.8 2396.5L1818.3 2419L1800.8 2441.5L1783.3 2419Z" stroke="#000000" stroke-width="0" fill="#000000" stroke-linejoin="miter"/>
<circle cx="1800.8" cy="2486.8" r="17" stroke="#0000a0" stroke-width="2" fill="#0000ee"/>
<rect x="1783.8" y="2538.7" width="34" height="34" stroke="#c80000" stroke-width="2" fill="#ff0000"/>
</g>
</g>
</svg>
</body></html>
